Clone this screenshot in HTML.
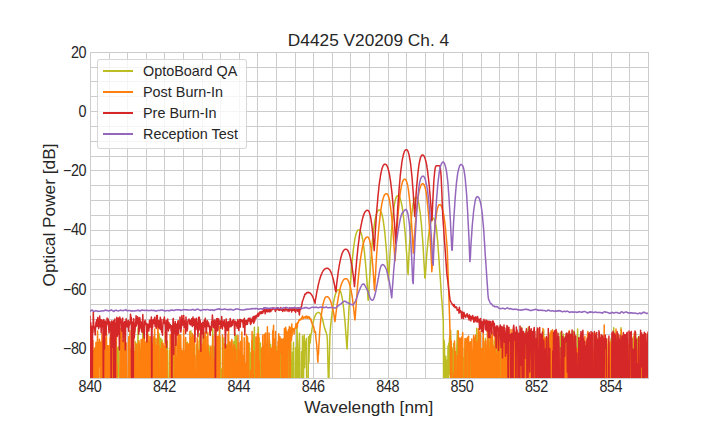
<!DOCTYPE html>
<html><head><meta charset="utf-8"><title>D4425 V20209 Ch. 4</title>
<style>
html,body{margin:0;padding:0;background:#fff;}
body{width:720px;height:432px;position:relative;overflow:hidden;font-family:"Liberation Sans",sans-serif;color:#262626;}
svg{position:absolute;left:0;top:0;}
.title{position:absolute;left:0;width:737px;top:30.1px;text-align:center;font-size:17.28px;line-height:20px;white-space:nowrap;}
.xl{position:absolute;left:0;width:737.5px;top:396.7px;text-align:center;font-size:17.28px;line-height:20px;white-space:nowrap;}
.yl{position:absolute;left:48.6px;top:214.9px;width:0;height:0;font-size:17.28px;line-height:20px;white-space:nowrap;}
.yl span{position:absolute;left:-150px;width:300px;top:-10px;text-align:center;transform:rotate(-90deg);transform-origin:50% 50%;display:block;}
.xt{position:absolute;top:378.0px;width:60px;text-align:center;font-size:14.4px;line-height:18px;letter-spacing:-0.4px;transform:scaleY(1.09);transform-origin:50% 14px;}
.yt{position:absolute;left:0;width:86.2px;text-align:right;font-size:14.4px;line-height:18px;letter-spacing:-0.4px;transform:scaleY(1.09);transform-origin:50% 9px;}
.legend{position:absolute;left:97px;top:58.7px;width:150px;height:90px;box-sizing:border-box;border:1px solid rgba(204,204,204,0.8);border-radius:3px;background:rgba(255,255,255,0.8);}
.li{position:absolute;left:97.5px;height:20px;line-height:20px;font-size:14.4px;white-space:nowrap;}
.ln{position:absolute;left:5px;top:9.25px;width:30px;height:1.5px;}
.lt{position:absolute;left:45.5px;top:0;}
</style></head><body>
<svg width="720" height="432" viewBox="0 0 720 432">
<defs><clipPath id="c"><rect x="90.0" y="51.84" width="558.0" height="326.15999999999997"/></clipPath></defs>
<g stroke="#cccccc" stroke-width="1" fill="none"><line x1="90.50" y1="52" x2="90.50" y2="379"/><line x1="109.50" y1="52" x2="109.50" y2="379"/><line x1="127.50" y1="52" x2="127.50" y2="379"/><line x1="146.50" y1="52" x2="146.50" y2="379"/><line x1="164.50" y1="52" x2="164.50" y2="379"/><line x1="183.50" y1="52" x2="183.50" y2="379"/><line x1="202.50" y1="52" x2="202.50" y2="379"/><line x1="220.50" y1="52" x2="220.50" y2="379"/><line x1="239.50" y1="52" x2="239.50" y2="379"/><line x1="257.50" y1="52" x2="257.50" y2="379"/><line x1="276.50" y1="52" x2="276.50" y2="379"/><line x1="295.50" y1="52" x2="295.50" y2="379"/><line x1="313.50" y1="52" x2="313.50" y2="379"/><line x1="332.50" y1="52" x2="332.50" y2="379"/><line x1="350.50" y1="52" x2="350.50" y2="379"/><line x1="369.50" y1="52" x2="369.50" y2="379"/><line x1="388.50" y1="52" x2="388.50" y2="379"/><line x1="406.50" y1="52" x2="406.50" y2="379"/><line x1="425.50" y1="52" x2="425.50" y2="379"/><line x1="443.50" y1="52" x2="443.50" y2="379"/><line x1="462.50" y1="52" x2="462.50" y2="379"/><line x1="481.50" y1="52" x2="481.50" y2="379"/><line x1="499.50" y1="52" x2="499.50" y2="379"/><line x1="518.50" y1="52" x2="518.50" y2="379"/><line x1="536.50" y1="52" x2="536.50" y2="379"/><line x1="555.50" y1="52" x2="555.50" y2="379"/><line x1="574.50" y1="52" x2="574.50" y2="379"/><line x1="592.50" y1="52" x2="592.50" y2="379"/><line x1="611.50" y1="52" x2="611.50" y2="379"/><line x1="629.50" y1="52" x2="629.50" y2="379"/><line x1="648.50" y1="52" x2="648.50" y2="379"/><line x1="90" y1="52.50" x2="649" y2="52.50"/><line x1="90" y1="67.50" x2="649" y2="67.50"/><line x1="90" y1="81.50" x2="649" y2="81.50"/><line x1="90" y1="96.50" x2="649" y2="96.50"/><line x1="90" y1="111.50" x2="649" y2="111.50"/><line x1="90" y1="126.50" x2="649" y2="126.50"/><line x1="90" y1="141.50" x2="649" y2="141.50"/><line x1="90" y1="156.50" x2="649" y2="156.50"/><line x1="90" y1="170.50" x2="649" y2="170.50"/><line x1="90" y1="185.50" x2="649" y2="185.50"/><line x1="90" y1="200.50" x2="649" y2="200.50"/><line x1="90" y1="215.50" x2="649" y2="215.50"/><line x1="90" y1="230.50" x2="649" y2="230.50"/><line x1="90" y1="245.50" x2="649" y2="245.50"/><line x1="90" y1="259.50" x2="649" y2="259.50"/><line x1="90" y1="274.50" x2="649" y2="274.50"/><line x1="90" y1="289.50" x2="649" y2="289.50"/><line x1="90" y1="304.50" x2="649" y2="304.50"/><line x1="90" y1="319.50" x2="649" y2="319.50"/><line x1="90" y1="334.50" x2="649" y2="334.50"/><line x1="90" y1="348.50" x2="649" y2="348.50"/><line x1="90" y1="363.50" x2="649" y2="363.50"/><line x1="90" y1="378.50" x2="649" y2="378.50"/></g>
<g clip-path="url(#c)" fill="none" stroke-width="1.5" stroke-linejoin="round" stroke-linecap="butt">
<path stroke="#bcbd22" d="M90.0,363.8 90.4,408.0 90.9,408.0 91.3,362.3 91.7,408.0 92.1,353.3 92.6,408.0 93.0,408.0 93.4,408.0 93.9,408.0 94.3,408.0 94.7,408.0 95.2,349.1 95.6,369.9 96.0,408.0 96.4,408.0 96.9,408.0 97.3,356.5 97.7,408.0 98.2,347.6 98.6,408.0 99.0,408.0 99.4,408.0 99.9,408.0 100.3,408.0 100.7,368.0 101.2,408.0 101.6,350.7 102.0,408.0 102.4,408.0 102.9,360.1 103.3,408.0 103.7,408.0 104.2,408.0 104.6,347.8 105.0,345.8 105.5,408.0 105.9,408.0 106.3,348.7 106.7,408.0 107.2,358.1 107.6,408.0 108.0,408.0 108.5,408.0 108.9,352.4 109.3,408.0 109.7,408.0 110.2,408.0 110.6,408.0 111.0,408.0 111.5,408.0 111.9,408.0 112.3,333.2 112.7,408.0 113.2,408.0 113.6,354.1 114.0,363.3 114.5,408.0 114.9,365.7 115.3,357.8 115.8,370.0 116.2,408.0 116.6,408.0 117.0,348.1 117.5,376.5 117.9,371.7 118.3,346.8 118.8,355.4 119.2,408.0 119.6,408.0 120.0,408.0 120.5,408.0 120.9,408.0 121.3,348.4 121.8,408.0 122.2,348.1 122.6,361.4 123.1,408.0 123.5,408.0 123.9,408.0 124.3,356.6 124.8,408.0 125.2,408.0 125.6,408.0 126.1,348.9 126.5,380.9 126.9,408.0 127.3,408.0 127.8,390.8 128.2,408.0 128.6,408.0 129.1,408.0 129.5,408.0 129.9,408.0 130.3,408.0 130.8,408.0 131.2,408.0 131.6,350.2 132.1,408.0 132.5,408.0 132.9,345.8 133.4,370.1 133.8,408.0 134.2,408.0 134.6,408.0 135.1,408.0 135.5,341.7 135.9,408.0 136.4,408.0 136.8,408.0 137.2,399.0 137.6,352.0 138.1,327.7 138.5,408.0 138.9,408.0 139.4,375.0 139.8,347.9 140.2,350.5 140.6,408.0 141.1,351.0 141.5,342.2 141.9,391.8 142.4,408.0 142.8,327.7 143.2,334.3 143.7,359.3 144.1,354.8 144.5,408.0 144.9,408.0 145.4,349.2 145.8,349.1 146.2,408.0 146.7,360.0 147.1,408.0 147.5,327.7 147.9,348.9 148.4,408.0 148.8,408.0 149.2,349.5 149.7,348.2 150.1,381.4 150.5,359.5 151.0,408.0 151.4,338.6 151.8,367.5 152.2,353.4 152.7,408.0 153.1,351.0 153.5,357.2 154.0,356.3 154.4,408.0 154.8,408.0 155.2,338.7 155.7,339.4 156.1,348.4 156.5,392.2 157.0,373.0 157.4,408.0 157.8,353.1 158.2,349.4 158.7,359.3 159.1,333.8 159.5,342.6 160.0,408.0 160.4,363.8 160.8,338.2 161.3,383.1 161.7,408.0 162.1,339.9 162.5,354.3 163.0,408.0 163.4,408.0 163.8,367.2 164.3,349.6 164.7,349.7 165.1,388.3 165.5,408.0 166.0,408.0 166.4,408.0 166.8,348.3 167.3,340.9 167.7,408.0 168.1,408.0 168.5,408.0 169.0,408.0 169.4,350.3 169.8,360.5 170.3,349.8 170.7,368.9 171.1,339.6 171.6,365.6 172.0,348.0 172.4,408.0 172.8,364.3 173.3,345.3 173.7,343.1 174.1,408.0 174.6,408.0 175.0,408.0 175.4,345.0 175.8,408.0 176.3,359.9 176.7,408.0 177.1,408.0 177.6,393.6 178.0,346.5 178.4,352.5 178.9,347.8 179.3,408.0 179.7,340.8 180.1,408.0 180.6,408.0 181.0,408.0 181.4,373.3 181.9,394.4 182.3,408.0 182.7,408.0 183.1,408.0 183.6,408.0 184.0,408.0 184.4,408.0 184.9,408.0 185.3,339.0 185.7,408.0 186.1,350.6 186.6,343.1 187.0,408.0 187.4,342.3 187.9,408.0 188.3,408.0 188.7,360.3 189.2,349.5 189.6,408.0 190.0,408.0 190.4,408.0 190.9,330.7 191.3,341.7 191.7,365.2 192.2,408.0 192.6,337.0 193.0,408.0 193.4,408.0 193.9,352.5 194.3,408.0 194.7,408.0 195.2,408.0 195.6,408.0 196.0,408.0 196.4,344.6 196.9,408.0 197.3,345.3 197.7,408.0 198.2,372.5 198.6,408.0 199.0,408.0 199.5,333.8 199.9,351.4 200.3,408.0 200.7,408.0 201.2,408.0 201.6,408.0 202.0,408.0 202.5,408.0 202.9,408.0 203.3,334.9 203.7,408.0 204.2,408.0 204.6,408.0 205.0,369.6 205.5,331.4 205.9,408.0 206.3,408.0 206.8,408.0 207.2,349.2 207.6,344.4 208.0,349.8 208.5,361.2 208.9,345.4 209.3,359.2 209.8,370.3 210.2,408.0 210.6,347.7 211.0,396.6 211.5,355.0 211.9,408.0 212.3,349.9 212.8,328.9 213.2,356.6 213.6,408.0 214.0,346.6 214.5,408.0 214.9,390.2 215.3,363.4 215.8,408.0 216.2,408.0 216.6,344.1 217.1,356.4 217.5,408.0 217.9,368.8 218.3,408.0 218.8,408.0 219.2,408.0 219.6,408.0 220.1,336.9 220.5,408.0 220.9,408.0 221.3,369.0 221.8,408.0 222.2,408.0 222.6,408.0 223.1,408.0 223.5,408.0 223.9,337.8 224.3,408.0 224.8,351.3 225.2,350.9 225.6,408.0 226.1,408.0 226.5,397.5 226.9,344.6 227.4,349.8 227.8,408.0 228.2,408.0 228.6,344.2 229.1,352.0 229.5,356.3 229.9,348.9 230.4,345.3 230.8,408.0 231.2,351.2 231.6,408.0 232.1,408.0 232.5,370.6 232.9,356.2 233.4,408.0 233.8,341.4 234.2,408.0 234.7,408.0 235.1,333.5 235.5,355.1 235.9,383.2 236.4,343.8 236.8,335.8 237.2,356.0 237.7,408.0 238.1,408.0 238.5,364.4 238.9,408.0 239.4,408.0 239.8,372.7 240.2,408.0 240.7,345.3 241.1,408.0 241.5,340.2 241.9,408.0 242.4,408.0 242.8,373.0 243.2,408.0 243.7,408.0 244.1,408.0 244.5,408.0 245.0,408.0 245.4,408.0 245.8,408.0 246.2,408.0 246.7,408.0 247.1,408.0 247.5,337.9 248.0,367.0 248.4,408.0 248.8,408.0 249.2,343.6 249.7,353.1 250.1,408.0 250.5,353.1 251.0,408.0 251.4,379.8 251.8,340.9 252.2,355.8 252.7,352.7 253.1,408.0 253.5,334.8 254.0,347.5 254.4,327.3 254.8,408.0 255.3,408.0 255.7,354.0 256.1,408.0 256.5,408.0 257.0,408.0 257.4,339.7 257.8,340.4 258.3,327.2 258.7,408.0 259.1,337.8 259.5,408.0 260.0,408.0 260.4,343.1 260.8,408.0 261.3,408.0 261.7,408.0 262.1,408.0 262.6,408.0 263.0,374.7 263.4,359.0 263.8,358.4 264.3,362.3 264.7,408.0 265.1,366.9 265.6,408.0 266.0,408.0 266.4,408.0 266.8,408.0 267.3,408.0 267.7,408.0 268.1,408.0 268.6,358.9 269.0,369.4 269.4,339.6 269.8,343.8 270.3,408.0 270.7,344.7 271.1,386.2 271.6,408.0 272.0,348.5 272.4,408.0 272.9,408.0 273.3,352.6 273.7,362.0 274.1,352.2 274.6,354.8 275.0,348.8 275.4,354.1 275.9,408.0 276.3,408.0 276.7,346.6 277.1,408.0 277.6,408.0 278.0,358.3 278.4,408.0 278.9,353.2 279.3,342.9 279.7,408.0 280.1,408.0 280.6,343.5 281.0,361.4 281.4,408.0 281.9,343.4 282.3,408.0 282.7,339.8 283.2,352.3 283.6,379.6 284.0,346.3 284.4,354.1 284.9,408.0 285.3,408.0 285.7,352.8 286.2,408.0 286.6,342.1 287.0,408.0 287.4,347.2 287.9,337.5 288.3,408.0 288.7,408.0 289.2,333.5 289.6,382.4 290.0,408.0 290.5,408.0 290.9,337.7 291.3,408.0 291.7,364.4 292.2,408.0 292.6,352.2 293.0,360.6 293.5,342.2 293.9,408.0 294.3,408.0 294.7,408.0 295.2,408.0 295.6,347.7 296.0,408.0 296.5,408.0 296.9,327.1 297.3,339.5 297.7,362.0 298.2,408.0 298.6,350.0 299.0,348.1 299.5,333.2 299.9,408.0 300.3,383.7 300.8,408.0 301.2,408.0 301.6,351.8 302.0,408.0 302.5,336.1 302.9,408.0 303.3,408.0 303.8,350.7 304.2,334.8 304.6,367.8 305.0,341.8 305.5,346.4 305.9,342.9 306.3,338.5 306.8,408.0 307.2,408.0 307.6,408.0 308.0,408.0 308.5,336.7 308.9,362.6 309.3,347.2 309.8,334.4 310.2,342.9 310.6,338.3 311.1,333.7 311.5,333.0 311.9,329.4 312.3,327.3 312.8,323.3 313.2,322.5 313.6,320.4 314.1,318.6 314.5,317.2 314.9,316.5 315.3,315.3 315.8,314.4 316.2,313.6 316.6,313.3 317.1,312.9 317.5,312.7 317.9,312.5 318.4,312.5 318.8,312.7 319.2,312.7 319.6,313.0 320.1,313.4 320.5,313.9 320.9,314.8 321.4,315.7 321.8,316.9 322.2,318.2 322.6,319.7 323.1,321.3 323.5,323.5 323.9,325.4 324.4,327.1 324.8,328.4 325.2,330.1 325.6,331.2 326.1,332.2 326.5,333.7 326.9,334.8 327.4,340.2 327.8,357.4 328.2,373.7 328.7,398.2 329.1,368.0 329.5,352.9 329.9,335.6 330.4,328.3 330.8,324.4 331.2,320.2 331.7,316.4 332.1,312.8 332.5,309.4 332.9,306.4 333.4,303.7 333.8,301.2 334.2,299.1 334.7,297.1 335.1,295.4 335.5,294.0 335.9,292.8 336.4,291.8 336.8,291.0 337.2,290.4 337.7,290.0 338.1,289.8 338.5,289.7 339.0,289.7 339.4,289.9 339.8,290.3 340.2,291.0 340.7,291.9 341.1,293.3 341.5,294.9 342.0,296.8 342.4,299.2 342.8,301.9 343.2,305.0 343.7,308.5 344.1,312.6 344.5,317.0 345.0,321.9 345.4,327.2 345.8,332.7 346.3,339.0 346.7,345.9 347.1,349.0 347.5,338.7 348.0,328.7 348.4,320.3 348.8,311.8 349.3,303.9 349.7,296.4 350.1,289.4 350.5,282.8 351.0,276.6 351.4,270.9 351.8,265.6 352.3,260.6 352.7,256.2 353.1,252.1 353.5,248.3 354.0,245.0 354.4,242.1 354.8,239.5 355.3,237.2 355.7,235.3 356.1,233.7 356.6,232.5 357.0,231.5 357.4,230.8 357.8,230.3 358.3,230.1 358.7,230.0 359.1,230.1 359.6,230.3 360.0,230.7 360.4,231.4 360.8,232.3 361.3,233.5 361.7,235.0 362.1,236.9 362.6,239.0 363.0,241.5 363.4,244.3 363.8,247.4 364.3,250.9 364.7,254.8 365.1,259.1 365.6,263.8 366.0,268.8 366.4,274.3 366.9,280.1 367.3,286.4 367.7,293.1 368.1,300.3 368.6,297.8 369.0,289.8 369.4,282.3 369.9,275.2 370.3,268.5 370.7,262.2 371.1,256.4 371.6,250.9 372.0,245.8 372.4,241.1 372.9,236.7 373.3,232.7 373.7,229.1 374.2,225.8 374.6,222.9 375.0,220.3 375.4,218.0 375.9,216.1 376.3,214.4 376.7,213.1 377.2,212.0 377.6,211.2 378.0,210.6 378.4,210.2 378.9,210.0 379.3,210.0 379.7,210.1 380.2,210.4 380.6,210.9 381.0,211.7 381.4,212.8 381.9,214.2 382.3,215.9 382.7,217.9 383.2,220.3 383.6,223.1 384.0,226.2 384.5,229.8 384.9,233.7 385.3,238.0 385.7,242.7 386.2,247.9 386.6,253.4 387.0,259.4 387.5,265.9 387.9,272.8 388.3,280.2 388.7,278.3 389.2,269.6 389.6,261.4 390.0,253.8 390.5,246.7 390.9,240.1 391.3,234.0 391.7,228.4 392.2,223.4 392.6,218.8 393.0,214.6 393.5,210.9 393.9,207.7 394.3,204.9 394.8,202.5 395.2,200.5 395.6,198.9 396.0,197.7 396.5,196.8 396.9,196.2 397.3,195.9 397.8,195.8 398.2,195.8 398.6,196.0 399.0,196.4 399.5,197.1 399.9,197.9 400.3,199.1 400.8,200.5 401.2,202.2 401.6,204.2 402.1,206.5 402.5,209.2 402.9,212.2 403.3,215.5 403.8,219.2 404.2,223.2 404.6,227.6 405.1,232.4 405.5,237.6 405.9,243.2 406.3,249.1 406.8,255.5 407.2,262.3 407.6,269.5 408.1,274.6 408.5,265.1 408.9,256.3 409.3,248.2 409.8,240.8 410.2,234.0 410.6,227.9 411.1,222.4 411.5,217.5 411.9,213.2 412.4,209.5 412.8,206.3 413.2,203.7 413.6,201.6 414.1,200.0 414.5,198.8 414.9,198.0 415.4,197.6 415.8,197.5 416.2,197.6 416.6,197.8 417.1,198.4 417.5,199.2 417.9,200.4 418.4,202.0 418.8,203.9 419.2,206.2 419.6,208.9 420.1,212.0 420.5,215.6 420.9,219.6 421.4,224.1 421.8,229.1 422.2,234.5 422.7,240.4 423.1,246.9 423.5,253.8 423.9,261.3 424.4,269.3 424.8,277.8 425.2,278.0 425.7,271.0 426.1,264.4 426.5,258.3 426.9,252.8 427.4,247.6 427.8,243.0 428.2,238.8 428.7,235.0 429.1,231.7 429.5,228.7 430.0,226.2 430.4,224.1 430.8,222.3 431.2,220.9 431.7,219.8 432.1,219.0 432.5,218.6 433.0,218.3 433.4,218.3 433.8,218.5 434.2,219.0 434.7,219.9 435.1,221.3 435.5,223.3 436.0,225.7 436.4,228.8 436.8,232.4 437.2,236.7 437.7,241.6 438.1,247.2 438.5,253.4 439.0,259.6 439.4,265.8 439.8,271.9 440.3,278.1 440.7,284.3 441.1,290.5 441.5,296.6 442.0,302.8 442.4,309.0 442.8,315.1 443.3,322.0 443.7,408.0 444.1,340.1 444.5,345.0 445.0,408.0 445.4,362.4 445.8,356.2 446.3,408.0 446.7,360.2 447.1,408.0 447.5,391.3 448.0,346.1 448.4,408.0 448.8,343.2 449.3,342.7 449.7,336.0 450.1,374.5 450.6,330.3 451.0,340.7 451.4,354.8 451.8,408.0 452.3,349.2 452.7,358.5 453.1,408.0 453.6,343.5 454.0,349.9 454.4,408.0 454.8,351.7 455.3,352.2 455.7,356.3 456.1,393.9 456.6,354.9 457.0,341.8 457.4,330.8 457.9,408.0 458.3,343.8 458.7,346.3 459.1,370.2 459.6,408.0 460.0,408.0 460.4,408.0 460.9,341.6 461.3,347.3 461.7,408.0 462.1,408.0 462.6,408.0 463.0,408.0 463.4,357.7 463.9,408.0 464.3,348.4 464.7,354.2 465.1,341.6 465.6,367.7 466.0,359.3 466.4,408.0 466.9,408.0 467.3,408.0 467.7,356.0 468.2,351.7 468.6,408.0 469.0,408.0 469.4,408.0 469.9,348.2 470.3,341.7 470.7,408.0 471.2,350.3 471.6,408.0 472.0,408.0 472.4,408.0 472.9,408.0 473.3,356.4 473.7,343.7 474.2,408.0 474.6,408.0 475.0,408.0 475.4,408.0 475.9,408.0 476.3,408.0 476.7,328.3 477.2,341.9 477.6,408.0 478.0,352.8 478.5,355.9 478.9,348.8 479.3,408.0 479.7,408.0 480.2,408.0 480.6,408.0 481.0,350.5 481.5,348.3 481.9,408.0 482.3,408.0 482.7,351.9 483.2,408.0 483.6,365.6 484.0,359.9 484.5,408.0 484.9,351.0 485.3,338.4 485.8,408.0 486.2,408.0 486.6,408.0 487.0,408.0 487.5,344.6 487.9,345.3 488.3,408.0 488.8,336.9 489.2,408.0 489.6,401.6 490.0,342.1 490.5,367.2 490.9,342.3 491.3,379.0 491.8,408.0 492.2,408.0 492.6,408.0 493.0,355.5 493.5,356.9 493.9,408.0 494.3,341.1 494.8,384.2 495.2,336.7 495.6,408.0 496.1,408.0 496.5,362.3 496.9,345.2 497.3,349.4 497.8,365.0 498.2,408.0 498.6,352.6 499.1,408.0 499.5,408.0 499.9,343.1 500.3,344.2 500.8,408.0 501.2,367.9 501.6,358.2 502.1,327.3 502.5,357.0 502.9,354.3 503.3,408.0 503.8,408.0 504.2,408.0 504.6,344.0 505.1,345.4 505.5,408.0 505.9,340.8 506.4,341.2 506.8,408.0 507.2,352.7 507.6,340.9 508.1,408.0 508.5,408.0 508.9,408.0 509.4,408.0 509.8,350.5 510.2,408.0 510.6,335.6 511.1,408.0 511.5,339.3 511.9,408.0 512.4,408.0 512.8,408.0 513.2,408.0 513.7,351.2 514.1,408.0 514.5,337.7 514.9,369.4 515.4,375.5 515.8,354.4 516.2,408.0 516.7,342.5 517.1,408.0 517.5,341.5 517.9,408.0 518.4,343.9 518.8,408.0 519.2,355.1 519.7,368.2 520.1,408.0 520.5,408.0 520.9,408.0 521.4,327.5 521.8,408.0 522.2,408.0 522.7,354.2 523.1,368.1 523.5,344.9 524.0,408.0 524.4,408.0 524.8,408.0 525.2,408.0 525.7,331.7 526.1,408.0 526.5,408.0 527.0,408.0 527.4,369.3 527.8,342.0 528.2,327.4 528.7,356.0 529.1,338.3 529.5,340.1 530.0,335.2 530.4,408.0 530.8,408.0 531.2,408.0 531.7,358.9 532.1,408.0 532.5,408.0 533.0,355.1 533.4,408.0 533.8,408.0 534.3,408.0 534.7,349.7 535.1,401.1 535.5,408.0 536.0,408.0 536.4,346.0 536.8,408.0 537.3,340.3 537.7,367.2 538.1,363.8 538.5,408.0 539.0,408.0 539.4,349.9 539.8,408.0 540.3,408.0 540.7,408.0 541.1,339.7 541.6,408.0 542.0,359.7 542.4,408.0 542.8,408.0 543.3,408.0 543.7,329.7 544.1,408.0 544.6,349.4 545.0,408.0 545.4,350.0 545.8,347.3 546.3,408.0 546.7,408.0 547.1,406.5 547.6,352.5 548.0,364.9 548.4,408.0 548.8,354.0 549.3,408.0 549.7,334.4 550.1,408.0 550.6,364.0 551.0,408.0 551.4,408.0 551.9,363.7 552.3,408.0 552.7,408.0 553.1,349.6 553.6,408.0 554.0,350.7 554.4,346.1 554.9,408.0 555.3,401.3 555.7,408.0 556.1,348.3 556.6,408.0 557.0,368.2 557.4,408.0 557.9,350.7 558.3,397.3 558.7,408.0 559.1,354.5 559.6,408.0 560.0,340.2 560.4,332.8 560.9,332.1 561.3,341.8 561.7,370.4 562.2,408.0 562.6,408.0 563.0,408.0 563.4,333.9 563.9,340.1 564.3,348.9 564.7,408.0 565.2,350.2 565.6,408.0 566.0,336.8 566.4,347.2 566.9,352.7 567.3,355.2 567.7,357.1 568.2,336.7 568.6,344.7 569.0,341.6 569.5,331.9 569.9,408.0 570.3,365.9 570.7,408.0 571.2,408.0 571.6,338.8 572.0,347.1 572.5,408.0 572.9,372.9 573.3,408.0 573.7,331.1 574.2,353.5 574.6,353.4 575.0,408.0 575.5,378.6 575.9,408.0 576.3,353.6 576.7,408.0 577.2,348.7 577.6,329.0 578.0,357.7 578.5,408.0 578.9,408.0 579.3,360.6 579.8,408.0 580.2,335.6 580.6,408.0 581.0,350.1 581.5,357.7 581.9,408.0 582.3,408.0 582.8,408.0 583.2,351.1 583.6,408.0 584.0,408.0 584.5,408.0 584.9,353.0 585.3,367.5 585.8,366.6 586.2,408.0 586.6,408.0 587.0,368.5 587.5,408.0 587.9,408.0 588.3,408.0 588.8,408.0 589.2,408.0 589.6,408.0 590.1,408.0 590.5,383.7 590.9,408.0 591.3,345.1 591.8,351.4 592.2,408.0 592.6,408.0 593.1,356.1 593.5,408.0 593.9,408.0 594.3,408.0 594.8,354.9 595.2,408.0 595.6,408.0 596.1,408.0 596.5,337.9 596.9,408.0 597.4,408.0 597.8,399.0 598.2,408.0 598.6,370.7 599.1,408.0 599.5,408.0 599.9,408.0 600.4,408.0 600.8,361.1 601.2,408.0 601.6,349.4 602.1,408.0 602.5,383.1 602.9,408.0 603.4,408.0 603.8,408.0 604.2,408.0 604.6,408.0 605.1,379.3 605.5,408.0 605.9,340.5 606.4,365.9 606.8,344.1 607.2,408.0 607.7,374.8 608.1,357.3 608.5,408.0 608.9,408.0 609.4,356.2 609.8,408.0 610.2,408.0 610.7,347.5 611.1,338.2 611.5,374.3 611.9,367.1 612.4,408.0 612.8,408.0 613.2,408.0 613.7,327.8 614.1,340.2 614.5,408.0 614.9,385.1 615.4,352.7 615.8,389.6 616.2,358.9 616.7,408.0 617.1,378.0 617.5,375.9 618.0,408.0 618.4,335.6 618.8,408.0 619.2,408.0 619.7,408.0 620.1,361.6 620.5,408.0 621.0,327.8 621.4,408.0 621.8,344.7 622.2,408.0 622.7,408.0 623.1,353.6 623.5,353.1 624.0,354.3 624.4,393.5 624.8,355.1 625.3,408.0 625.7,341.3 626.1,408.0 626.5,357.5 627.0,371.2 627.4,353.5 627.8,408.0 628.3,408.0 628.7,344.7 629.1,408.0 629.5,350.1 630.0,408.0 630.4,408.0 630.8,351.9 631.3,408.0 631.7,353.1 632.1,408.0 632.5,351.5 633.0,408.0 633.4,336.8 633.8,408.0 634.3,408.0 634.7,347.9 635.1,408.0 635.6,332.7 636.0,346.6 636.4,341.6 636.8,356.5 637.3,338.2 637.7,343.7 638.1,404.5 638.6,408.0 639.0,408.0 639.4,408.0 639.8,335.9 640.3,408.0 640.7,408.0 641.1,408.0 641.6,347.1 642.0,408.0 642.4,408.0 642.8,345.9 643.3,408.0 643.7,335.9 644.1,408.0 644.6,375.3 645.0,339.1 645.4,408.0 645.9,408.0 646.3,352.6 646.7,408.0 647.1,408.0 647.6,360.4 648.0,345.8"/><path stroke="#ff7f0e" d="M90.0,361.7 90.3,408.0 90.6,408.0 90.9,408.0 91.2,332.8 91.5,338.6 91.8,408.0 92.1,343.6 92.3,356.6 92.6,408.0 92.9,340.6 93.2,408.0 93.5,408.0 93.8,408.0 94.1,350.4 94.4,408.0 94.7,348.1 95.0,408.0 95.3,366.7 95.6,408.0 95.9,342.5 96.2,361.7 96.5,354.5 96.8,351.7 97.0,408.0 97.3,343.4 97.6,331.0 97.9,408.0 98.2,408.0 98.5,408.0 98.8,342.5 99.1,366.5 99.4,339.3 99.7,344.5 100.0,360.2 100.3,356.4 100.6,408.0 100.9,342.1 101.2,408.0 101.5,408.0 101.7,358.4 102.0,332.7 102.3,408.0 102.6,408.0 102.9,408.0 103.2,340.7 103.5,408.0 103.8,336.6 104.1,408.0 104.4,338.7 104.7,339.8 105.0,408.0 105.3,364.2 105.6,337.7 105.9,371.3 106.2,340.2 106.4,329.1 106.7,356.8 107.0,408.0 107.3,408.0 107.6,345.8 107.9,408.0 108.2,408.0 108.5,408.0 108.8,345.8 109.1,408.0 109.4,408.0 109.7,408.0 110.0,337.9 110.3,373.5 110.6,334.9 110.9,408.0 111.1,408.0 111.4,349.7 111.7,408.0 112.0,408.0 112.3,408.0 112.6,332.9 112.9,353.5 113.2,351.5 113.5,408.0 113.8,408.0 114.1,341.7 114.4,408.0 114.7,408.0 115.0,408.0 115.3,408.0 115.6,361.5 115.8,338.6 116.1,408.0 116.4,335.6 116.7,408.0 117.0,364.2 117.3,408.0 117.6,408.0 117.9,378.9 118.2,408.0 118.5,408.0 118.8,408.0 119.1,408.0 119.4,408.0 119.7,408.0 120.0,351.9 120.2,341.4 120.5,345.8 120.8,328.6 121.1,354.8 121.4,408.0 121.7,332.1 122.0,408.0 122.3,340.6 122.6,408.0 122.9,353.5 123.2,408.0 123.5,341.5 123.8,408.0 124.1,408.0 124.4,333.5 124.7,343.6 124.9,379.3 125.2,408.0 125.5,408.0 125.8,408.0 126.1,344.3 126.4,343.1 126.7,408.0 127.0,408.0 127.3,408.0 127.6,408.0 127.9,408.0 128.2,408.0 128.5,344.9 128.8,336.6 129.1,408.0 129.4,347.8 129.6,408.0 129.9,330.8 130.2,408.0 130.5,349.0 130.8,408.0 131.1,408.0 131.4,360.6 131.7,408.0 132.0,353.5 132.3,408.0 132.6,345.4 132.9,408.0 133.2,333.1 133.5,408.0 133.8,338.9 134.1,408.0 134.3,351.0 134.6,408.0 134.9,408.0 135.2,386.8 135.5,408.0 135.8,357.2 136.1,343.8 136.4,345.6 136.7,408.0 137.0,408.0 137.3,408.0 137.6,408.0 137.9,408.0 138.2,343.8 138.5,408.0 138.8,408.0 139.0,340.8 139.3,345.3 139.6,359.4 139.9,408.0 140.2,355.1 140.5,353.7 140.8,408.0 141.1,339.5 141.4,348.8 141.7,408.0 142.0,367.0 142.3,408.0 142.6,338.4 142.9,342.8 143.2,408.0 143.5,408.0 143.7,369.3 144.0,408.0 144.3,334.6 144.6,343.9 144.9,408.0 145.2,347.1 145.5,408.0 145.8,355.1 146.1,341.9 146.4,408.0 146.7,408.0 147.0,347.4 147.3,331.4 147.6,360.4 147.9,408.0 148.1,335.3 148.4,408.0 148.7,348.9 149.0,408.0 149.3,341.0 149.6,408.0 149.9,336.4 150.2,355.5 150.5,408.0 150.8,408.0 151.1,408.0 151.4,336.7 151.7,366.4 152.0,374.5 152.3,408.0 152.6,343.9 152.8,352.5 153.1,356.3 153.4,408.0 153.7,337.8 154.0,336.1 154.3,408.0 154.6,329.3 154.9,344.2 155.2,408.0 155.5,408.0 155.8,345.4 156.1,347.5 156.4,408.0 156.7,408.0 157.0,338.5 157.3,408.0 157.5,408.0 157.8,326.6 158.1,330.3 158.4,340.6 158.7,408.0 159.0,345.6 159.3,408.0 159.6,368.6 159.9,408.0 160.2,408.0 160.5,408.0 160.8,348.3 161.1,370.8 161.4,363.5 161.7,342.2 162.0,408.0 162.2,408.0 162.5,408.0 162.8,408.0 163.1,343.5 163.4,408.0 163.7,345.7 164.0,408.0 164.3,408.0 164.6,408.0 164.9,408.0 165.2,332.0 165.5,342.0 165.8,408.0 166.1,408.0 166.4,408.0 166.7,408.0 166.9,350.6 167.2,408.0 167.5,408.0 167.8,408.0 168.1,408.0 168.4,408.0 168.7,408.0 169.0,408.0 169.3,408.0 169.6,408.0 169.9,374.1 170.2,334.5 170.5,342.6 170.8,408.0 171.1,344.1 171.4,408.0 171.6,335.2 171.9,347.6 172.2,408.0 172.5,343.6 172.8,342.6 173.1,408.0 173.4,408.0 173.7,408.0 174.0,408.0 174.3,408.0 174.6,408.0 174.9,348.7 175.2,355.4 175.5,327.5 175.8,408.0 176.0,338.1 176.3,372.3 176.6,356.7 176.9,408.0 177.2,408.0 177.5,408.0 177.8,343.4 178.1,334.0 178.4,346.4 178.7,348.9 179.0,408.0 179.3,334.4 179.6,336.1 179.9,408.0 180.2,408.0 180.5,408.0 180.7,335.0 181.0,351.5 181.3,408.0 181.6,351.5 181.9,350.4 182.2,408.0 182.5,408.0 182.8,408.0 183.1,408.0 183.4,349.8 183.7,329.7 184.0,408.0 184.3,365.2 184.6,351.3 184.9,408.0 185.2,360.2 185.4,408.0 185.7,337.5 186.0,408.0 186.3,369.2 186.6,344.8 186.9,408.0 187.2,408.0 187.5,408.0 187.8,343.4 188.1,408.0 188.4,358.7 188.7,408.0 189.0,364.8 189.3,344.0 189.6,381.9 189.9,331.6 190.1,408.0 190.4,408.0 190.7,408.0 191.0,338.0 191.3,408.0 191.6,339.7 191.9,349.9 192.2,333.6 192.5,336.8 192.8,408.0 193.1,356.5 193.4,338.8 193.7,408.0 194.0,335.1 194.3,337.4 194.6,340.1 194.8,408.0 195.1,355.2 195.4,408.0 195.7,376.1 196.0,408.0 196.3,371.1 196.6,408.0 196.9,356.0 197.2,337.7 197.5,408.0 197.8,340.8 198.1,408.0 198.4,408.0 198.7,408.0 199.0,400.9 199.3,350.3 199.5,408.0 199.8,408.0 200.1,366.3 200.4,336.9 200.7,408.0 201.0,348.0 201.3,408.0 201.6,408.0 201.9,408.0 202.2,344.3 202.5,408.0 202.8,408.0 203.1,346.9 203.4,332.3 203.7,352.1 203.9,355.1 204.2,408.0 204.5,338.7 204.8,347.7 205.1,332.7 205.4,354.0 205.7,408.0 206.0,408.0 206.3,408.0 206.6,408.0 206.9,336.8 207.2,342.5 207.5,408.0 207.8,332.4 208.1,357.8 208.4,408.0 208.6,352.0 208.9,408.0 209.2,408.0 209.5,408.0 209.8,381.7 210.1,355.6 210.4,408.0 210.7,347.3 211.0,346.0 211.3,408.0 211.6,367.8 211.9,408.0 212.2,408.0 212.5,408.0 212.8,335.9 213.1,408.0 213.3,358.2 213.6,361.4 213.9,408.0 214.2,408.0 214.5,408.0 214.8,408.0 215.1,392.3 215.4,354.1 215.7,408.0 216.0,325.4 216.3,408.0 216.6,366.1 216.9,408.0 217.2,408.0 217.5,336.4 217.8,408.0 218.0,336.0 218.3,338.0 218.6,408.0 218.9,339.3 219.2,408.0 219.5,326.8 219.8,408.0 220.1,408.0 220.4,408.0 220.7,408.0 221.0,408.0 221.3,408.0 221.6,408.0 221.9,408.0 222.2,408.0 222.5,335.0 222.7,408.0 223.0,408.0 223.3,408.0 223.6,408.0 223.9,408.0 224.2,408.0 224.5,344.0 224.8,408.0 225.1,408.0 225.4,346.0 225.7,356.0 226.0,408.0 226.3,352.0 226.6,408.0 226.9,345.7 227.2,349.5 227.4,408.0 227.7,408.0 228.0,334.3 228.3,369.9 228.6,325.4 228.9,408.0 229.2,341.7 229.5,408.0 229.8,357.3 230.1,342.0 230.4,408.0 230.7,408.0 231.0,363.1 231.3,367.5 231.6,346.3 231.8,339.4 232.1,342.0 232.4,356.8 232.7,408.0 233.0,408.0 233.3,408.0 233.6,408.0 233.9,344.6 234.2,408.0 234.5,408.0 234.8,345.7 235.1,408.0 235.4,408.0 235.7,408.0 236.0,349.3 236.3,408.0 236.5,408.0 236.8,361.9 237.1,408.0 237.4,408.0 237.7,408.0 238.0,335.5 238.3,408.0 238.6,344.0 238.9,342.7 239.2,408.0 239.5,350.1 239.8,408.0 240.1,408.0 240.4,408.0 240.7,341.4 241.0,408.0 241.2,408.0 241.5,408.0 241.8,332.0 242.1,343.5 242.4,408.0 242.7,408.0 243.0,408.0 243.3,355.4 243.6,355.5 243.9,408.0 244.2,337.7 244.5,342.9 244.8,408.0 245.1,408.0 245.4,408.0 245.7,362.9 245.9,408.0 246.2,408.0 246.5,334.6 246.8,354.3 247.1,336.6 247.4,336.7 247.7,408.0 248.0,353.3 248.3,343.5 248.6,342.9 248.9,408.0 249.2,408.0 249.5,380.5 249.8,408.0 250.1,408.0 250.4,408.0 250.6,370.4 250.9,408.0 251.2,408.0 251.5,408.0 251.8,354.2 252.1,331.4 252.4,359.5 252.7,408.0 253.0,364.8 253.3,408.0 253.6,351.1 253.9,408.0 254.2,408.0 254.5,408.0 254.8,408.0 255.1,408.0 255.3,408.0 255.6,408.0 255.9,337.1 256.2,408.0 256.5,408.0 256.8,346.2 257.1,347.1 257.4,333.4 257.7,346.1 258.0,408.0 258.3,335.6 258.6,333.9 258.9,408.0 259.2,361.6 259.5,408.0 259.7,408.0 260.0,408.0 260.3,408.0 260.6,408.0 260.9,408.0 261.2,408.0 261.5,347.9 261.8,356.8 262.1,408.0 262.4,408.0 262.7,336.5 263.0,334.7 263.3,408.0 263.6,346.1 263.9,408.0 264.2,408.0 264.4,408.0 264.7,334.2 265.0,408.0 265.3,408.0 265.6,333.0 265.9,408.0 266.2,344.1 266.5,347.3 266.8,408.0 267.1,357.2 267.4,326.8 267.7,408.0 268.0,408.0 268.3,408.0 268.6,408.0 268.9,408.0 269.1,332.9 269.4,354.7 269.7,408.0 270.0,408.0 270.3,348.4 270.6,348.3 270.9,408.0 271.2,391.1 271.5,352.2 271.8,348.2 272.1,348.0 272.4,408.0 272.7,330.7 273.0,353.1 273.3,330.9 273.6,325.3 273.8,408.0 274.1,408.0 274.4,339.1 274.7,408.0 275.0,408.0 275.3,408.0 275.6,331.4 275.9,408.0 276.2,408.0 276.5,408.0 276.8,408.0 277.1,351.6 277.4,408.0 277.7,408.0 278.0,341.4 278.3,408.0 278.5,339.4 278.8,333.8 279.1,408.0 279.4,408.0 279.7,347.7 280.0,336.8 280.3,352.9 280.6,348.2 280.9,352.8 281.2,343.9 281.5,339.0 281.8,408.0 282.1,408.0 282.4,348.2 282.7,408.0 283.0,345.3 283.2,338.8 283.5,348.0 283.8,408.0 284.1,408.0 284.4,328.4 284.7,334.2 285.0,408.0 285.3,408.0 285.6,327.3 285.9,329.1 286.2,341.0 286.5,330.9 286.8,408.0 287.1,341.5 287.4,333.2 287.6,408.0 287.9,361.8 288.2,332.0 288.5,329.5 288.8,348.8 289.1,335.0 289.4,326.4 289.7,341.9 290.0,408.0 290.3,336.6 290.6,339.4 290.9,327.6 291.2,333.4 291.5,340.5 291.8,324.1 292.1,336.0 292.3,330.4 292.6,329.4 292.9,328.7 293.2,330.4 293.5,328.7 293.8,330.2 294.1,334.1 294.4,329.6 294.7,329.0 295.0,328.4 295.3,327.1 295.6,327.8 295.9,324.3 296.2,323.6 296.5,328.3 296.8,324.5 297.0,324.8 297.3,326.9 297.6,322.5 297.9,323.2 298.2,322.5 298.5,322.3 298.8,320.3 299.1,319.8 299.4,320.3 299.7,319.6 300.0,319.9 300.3,319.4 300.6,319.9 300.9,319.0 301.2,319.3 301.5,318.2 301.7,317.7 302.0,317.8 302.3,317.1 302.6,316.0 302.9,319.0 303.2,317.4 303.5,317.6 303.8,317.5 304.1,318.0 304.4,316.9 304.7,317.1 305.0,317.2 305.3,316.9 305.6,317.1 305.9,318.2 306.2,316.1 306.4,316.9 306.7,317.3 307.0,316.5 307.3,317.1 307.6,318.2 307.9,316.4 308.2,318.1 308.5,317.4 308.8,317.4 309.1,316.9 309.4,317.3 309.7,318.3 310.0,319.3 310.3,319.5 310.6,319.0 310.9,319.0 311.1,320.5 311.4,322.1 311.7,321.4 312.0,323.4 312.3,324.3 312.6,325.0 312.9,325.1 313.2,326.2 313.5,326.4 313.8,327.1 314.1,328.5 314.4,331.9 314.7,332.1 315.0,331.3 315.3,332.4 315.5,331.9 315.8,336.7 316.1,340.1 316.4,341.8 316.7,344.6 317.0,349.9 317.3,351.5 317.6,359.2 317.9,362.3 318.2,354.0 318.5,354.3 318.8,346.1 319.1,341.7 319.4,336.9 319.7,332.1 320.0,328.2 320.2,325.5 320.5,322.4 320.8,319.7 321.1,317.0 321.4,314.7 321.7,312.5 322.0,310.4 322.3,308.5 322.6,306.8 322.9,305.2 323.2,303.7 323.5,302.5 323.8,301.3 324.1,300.3 324.4,299.5 324.7,298.7 324.9,298.1 325.2,297.6 325.5,297.3 325.8,297.0 326.1,296.8 326.4,296.7 326.7,296.7 327.0,296.7 327.3,296.7 327.6,296.9 327.9,297.0 328.2,297.2 328.5,297.4 328.8,297.7 329.1,298.1 329.4,298.5 329.6,299.0 329.9,299.6 330.2,300.2 330.5,301.0 330.8,301.8 331.1,302.6 331.4,303.6 331.7,304.6 332.0,305.7 332.3,306.9 332.6,308.2 332.9,309.5 333.2,311.0 333.5,312.4 333.8,314.0 334.1,315.9 334.3,317.5 334.6,319.5 334.9,321.6 335.2,320.0 335.5,317.3 335.8,314.8 336.1,312.4 336.4,310.2 336.7,308.0 337.0,305.8 337.3,303.7 337.6,301.8 337.9,300.0 338.2,298.2 338.5,296.5 338.8,294.9 339.0,293.4 339.3,292.0 339.6,290.6 339.9,289.4 340.2,288.2 340.5,287.1 340.8,286.1 341.1,285.1 341.4,284.2 341.7,283.4 342.0,282.7 342.3,282.0 342.6,281.4 342.9,280.9 343.2,280.4 343.4,280.0 343.7,279.7 344.0,279.4 344.3,279.1 344.6,279.0 344.9,278.8 345.2,278.8 345.5,278.7 345.8,278.7 346.1,278.7 346.4,278.8 346.7,278.9 347.0,279.1 347.3,279.3 347.6,279.6 347.9,280.1 348.1,280.5 348.4,281.1 348.7,281.8 349.0,282.5 349.3,283.4 349.6,284.3 349.9,285.3 350.2,286.5 350.5,287.7 350.8,289.1 351.1,290.5 351.4,292.1 351.7,293.8 352.0,295.5 352.3,297.5 352.6,299.5 352.8,301.6 353.1,303.9 353.4,306.2 353.7,308.7 354.0,311.4 354.3,314.2 354.6,317.1 354.9,320.0 355.2,318.0 355.5,313.5 355.8,309.3 356.1,305.2 356.4,301.3 356.7,297.4 357.0,293.8 357.3,290.2 357.5,286.7 357.8,283.4 358.1,280.2 358.4,277.2 358.7,274.3 359.0,271.5 359.3,268.8 359.6,266.2 359.9,263.8 360.2,261.5 360.5,259.3 360.8,257.2 361.1,255.2 361.4,253.3 361.7,251.6 362.0,250.0 362.2,248.4 362.5,247.0 362.8,245.7 363.1,244.5 363.4,243.4 363.7,242.4 364.0,241.5 364.3,240.7 364.6,239.9 364.9,239.3 365.2,238.7 365.5,238.3 365.8,237.9 366.1,237.6 366.4,237.3 366.7,237.2 366.9,237.1 367.2,237.0 367.5,237.0 367.8,237.0 368.1,237.2 368.4,237.5 368.7,238.0 369.0,238.6 369.3,239.4 369.6,240.4 369.9,241.6 370.2,243.0 370.5,244.6 370.8,246.5 371.1,248.6 371.3,250.9 371.6,253.5 371.9,256.3 372.2,259.3 372.5,262.6 372.8,266.2 373.1,270.1 373.4,274.2 373.7,278.6 374.0,283.3 374.3,288.2 374.6,290.5 374.9,285.0 375.2,279.7 375.5,274.6 375.8,269.6 376.0,264.8 376.3,260.2 376.6,255.8 376.9,251.5 377.2,247.5 377.5,243.5 377.8,239.8 378.1,236.2 378.4,232.8 378.7,229.5 379.0,226.4 379.3,223.5 379.6,220.7 379.9,218.1 380.2,215.6 380.5,213.2 380.7,211.1 381.0,209.0 381.3,207.1 381.6,205.4 381.9,203.7 382.2,202.3 382.5,200.9 382.8,199.7 383.1,198.6 383.4,197.6 383.7,196.8 384.0,196.0 384.3,195.4 384.6,194.9 384.9,194.5 385.2,194.2 385.4,193.9 385.7,193.8 386.0,193.7 386.3,193.7 386.6,193.7 386.9,193.9 387.2,194.1 387.5,194.4 387.8,194.9 388.1,195.5 388.4,196.3 388.7,197.2 389.0,198.3 389.3,199.6 389.6,201.0 389.9,202.6 390.1,204.4 390.4,206.3 390.7,208.5 391.0,210.9 391.3,213.4 391.6,216.2 391.9,219.1 392.2,222.3 392.5,225.7 392.8,229.3 393.1,233.1 393.4,237.1 393.7,241.3 394.0,245.8 394.3,250.5 394.6,255.5 394.8,260.7 395.1,260.8 395.4,255.1 395.7,249.7 396.0,244.5 396.3,239.5 396.6,234.8 396.9,230.3 397.2,225.9 397.5,221.8 397.8,218.0 398.1,214.3 398.4,210.8 398.7,207.5 399.0,204.5 399.2,201.6 399.5,198.9 399.8,196.4 400.1,194.1 400.4,192.0 400.7,190.1 401.0,188.3 401.3,186.7 401.6,185.3 401.9,184.1 402.2,183.0 402.5,182.0 402.8,181.2 403.1,180.6 403.4,180.1 403.7,179.7 403.9,179.4 404.2,179.3 404.5,179.2 404.8,179.2 405.1,179.3 405.4,179.4 405.7,179.7 406.0,180.2 406.3,180.8 406.6,181.5 406.9,182.4 407.2,183.5 407.5,184.7 407.8,186.2 408.1,187.8 408.4,189.6 408.6,191.7 408.9,193.9 409.2,196.4 409.5,199.0 409.8,201.9 410.1,205.0 410.4,208.4 410.7,211.9 411.0,215.7 411.3,219.8 411.6,224.0 411.9,228.6 412.2,233.3 412.5,238.3 412.8,243.6 413.1,249.1 413.3,253.2 413.6,248.4 413.9,243.7 414.2,239.2 414.5,235.0 414.8,230.9 415.1,227.0 415.4,223.3 415.7,219.8 416.0,216.5 416.3,213.3 416.6,210.3 416.9,207.5 417.2,204.9 417.5,202.5 417.8,200.2 418.0,198.1 418.3,196.1 418.6,194.4 418.9,192.7 419.2,191.2 419.5,189.9 419.8,188.7 420.1,187.7 420.4,186.8 420.7,186.0 421.0,185.4 421.3,184.8 421.6,184.4 421.9,184.1 422.2,183.9 422.5,183.8 422.7,183.8 423.0,183.8 423.3,183.9 423.6,184.2 423.9,184.5 424.2,185.0 424.5,185.7 424.8,186.5 425.1,187.5 425.4,188.7 425.7,190.1 426.0,191.7 426.3,193.5 426.6,195.5 426.9,197.7 427.1,200.1 427.4,202.8 427.7,205.7 428.0,208.8 428.3,212.1 428.6,215.7 428.9,219.5 429.2,223.6 429.5,227.9 429.8,232.5 430.1,237.3 430.4,242.4 430.7,247.7 431.0,253.4 431.3,259.2 431.6,265.4 431.8,271.8 432.1,268.2 432.4,262.7 432.7,257.4 433.0,252.5 433.3,247.8 433.6,243.3 433.9,239.2 434.2,235.3 434.5,231.7 434.8,228.3 435.1,225.2 435.4,222.3 435.7,219.7 436.0,217.3 436.3,215.1 436.5,213.2 436.8,211.5 437.1,210.0 437.4,208.7 437.7,207.6 438.0,206.7 438.3,206.0 438.6,205.4 438.9,205.1 439.2,204.8 439.5,204.7 439.8,204.7 440.1,204.7 440.4,204.9 440.7,205.1 441.0,205.4 441.2,205.9 441.5,206.4 441.8,207.1 442.1,208.0 442.4,209.0 442.7,210.1 443.0,211.4 443.3,212.8 443.6,214.4 443.9,216.2 444.2,218.2 444.5,220.3 444.8,222.6 445.1,225.0 445.4,227.7 445.7,230.5 445.9,233.5 446.2,236.8 446.5,240.2 446.8,243.8 447.1,247.6 447.4,253.4 447.7,262.2 448.0,271.0 448.3,279.8 448.6,288.7 448.9,297.5 449.2,306.3 449.5,315.1 449.8,323.9 450.1,338.5 450.4,342.7 450.6,408.0 450.9,408.0 451.2,340.9 451.5,408.0 451.8,347.4 452.1,408.0 452.4,408.0 452.7,408.0 453.0,408.0 453.3,408.0 453.6,381.1 453.9,372.7 454.2,408.0 454.5,341.1 454.8,349.7 455.0,408.0 455.3,408.0 455.6,351.7 455.9,408.0 456.2,408.0 456.5,408.0 456.8,408.0 457.1,408.0 457.4,356.1 457.7,408.0 458.0,408.0 458.3,330.9 458.6,408.0 458.9,408.0 459.2,408.0 459.5,408.0 459.7,338.1 460.0,408.0 460.3,345.0 460.6,408.0 460.9,338.4 461.2,338.9 461.5,408.0 461.8,337.1 462.1,362.8 462.4,341.9 462.7,332.5 463.0,408.0 463.3,408.0 463.6,408.0 463.9,408.0 464.2,408.0 464.4,408.0 464.7,408.0 465.0,338.5 465.3,343.2 465.6,408.0 465.9,338.9 466.2,408.0 466.5,408.0 466.8,408.0 467.1,338.1 467.4,345.0 467.7,352.0 468.0,336.8 468.3,345.2 468.6,336.1 468.9,408.0 469.1,408.0 469.4,408.0 469.7,342.9 470.0,360.7 470.3,342.0 470.6,345.1 470.9,349.7 471.2,343.1 471.5,408.0 471.8,339.1 472.1,408.0 472.4,408.0 472.7,408.0 473.0,349.9 473.3,408.0 473.6,335.6 473.8,408.0 474.1,360.4 474.4,408.0 474.7,408.0 475.0,337.2 475.3,408.0 475.6,335.1 475.9,408.0 476.2,408.0 476.5,408.0 476.8,348.6 477.1,341.4 477.4,362.8 477.7,408.0 478.0,408.0 478.3,328.8 478.5,344.4 478.8,408.0 479.1,408.0 479.4,408.0 479.7,334.0 480.0,331.0 480.3,335.1 480.6,408.0 480.9,408.0 481.2,408.0 481.5,349.0 481.8,408.0 482.1,408.0 482.4,408.0 482.7,408.0 482.9,341.6 483.2,333.1 483.5,369.6 483.8,408.0 484.1,408.0 484.4,408.0 484.7,408.0 485.0,341.8 485.3,360.4 485.6,340.5 485.9,352.1 486.2,408.0 486.5,408.0 486.8,408.0 487.1,408.0 487.4,330.8 487.6,358.8 487.9,408.0 488.2,330.8 488.5,408.0 488.8,348.1 489.1,408.0 489.4,354.4 489.7,408.0 490.0,349.7 490.3,335.2 490.6,408.0 490.9,408.0 491.2,335.9 491.5,366.3 491.8,341.8 492.1,408.0 492.3,334.1 492.6,331.9 492.9,408.0 493.2,345.3 493.5,408.0 493.8,408.0 494.1,408.0 494.4,347.8 494.7,408.0 495.0,408.0 495.3,337.2 495.6,408.0 495.9,353.1 496.2,408.0 496.5,408.0 496.8,376.4 497.0,366.7 497.3,372.8 497.6,334.0 497.9,370.5 498.2,408.0 498.5,408.0 498.8,408.0 499.1,337.1 499.4,408.0 499.7,408.0 500.0,408.0 500.3,408.0 500.6,408.0 500.9,408.0 501.2,340.9 501.5,352.1 501.7,408.0 502.0,355.4 502.3,408.0 502.6,341.0 502.9,345.5 503.2,361.6 503.5,408.0 503.8,331.0 504.1,408.0 504.4,408.0 504.7,408.0 505.0,346.5 505.3,408.0 505.6,367.6 505.9,408.0 506.2,408.0 506.4,343.3 506.7,335.9 507.0,356.0 507.3,408.0 507.6,408.0 507.9,335.5 508.2,408.0 508.5,408.0 508.8,381.1 509.1,335.6 509.4,408.0 509.7,408.0 510.0,329.5 510.3,348.3 510.6,358.1 510.8,340.6 511.1,408.0 511.4,408.0 511.7,408.0 512.0,329.4 512.3,408.0 512.6,408.0 512.9,408.0 513.2,408.0 513.5,408.0 513.8,362.7 514.1,408.0 514.4,331.0 514.7,351.3 515.0,347.2 515.3,336.2 515.5,347.3 515.8,408.0 516.1,408.0 516.4,356.5 516.7,408.0 517.0,336.7 517.3,408.0 517.6,408.0 517.9,408.0 518.2,339.5 518.5,408.0 518.8,370.4 519.1,375.3 519.4,333.0 519.7,359.5 520.0,408.0 520.2,408.0 520.5,408.0 520.8,335.8 521.1,338.6 521.4,408.0 521.7,347.9 522.0,358.2 522.3,408.0 522.6,408.0 522.9,344.7 523.2,408.0 523.5,408.0 523.8,408.0 524.1,408.0 524.4,408.0 524.7,366.6 524.9,350.0 525.2,408.0 525.5,408.0 525.8,408.0 526.1,334.8 526.4,408.0 526.7,408.0 527.0,345.8 527.3,408.0 527.6,408.0 527.9,408.0 528.2,358.9 528.5,408.0 528.8,408.0 529.1,408.0 529.4,408.0 529.6,361.1 529.9,408.0 530.2,358.6 530.5,342.5 530.8,356.6 531.1,408.0 531.4,357.5 531.7,408.0 532.0,408.0 532.3,333.3 532.6,408.0 532.9,334.2 533.2,408.0 533.5,408.0 533.8,408.0 534.1,341.0 534.3,408.0 534.6,346.7 534.9,351.9 535.2,348.8 535.5,356.1 535.8,408.0 536.1,408.0 536.4,408.0 536.7,408.0 537.0,349.7 537.3,330.1 537.6,338.8 537.9,328.6 538.2,349.5 538.5,408.0 538.7,408.0 539.0,343.5 539.3,353.9 539.6,408.0 539.9,343.4 540.2,408.0 540.5,347.9 540.8,408.0 541.1,363.7 541.4,337.1 541.7,408.0 542.0,335.2 542.3,335.6 542.6,408.0 542.9,328.4 543.2,408.0 543.4,408.0 543.7,343.1 544.0,408.0 544.3,338.8 544.6,337.5 544.9,408.0 545.2,355.5 545.5,358.4 545.8,408.0 546.1,338.2 546.4,408.0 546.7,408.0 547.0,351.8 547.3,341.2 547.6,337.9 547.9,408.0 548.1,408.0 548.4,408.0 548.7,408.0 549.0,408.0 549.3,354.1 549.6,345.0 549.9,351.3 550.2,332.7 550.5,408.0 550.8,382.9 551.1,330.7 551.4,344.1 551.7,408.0 552.0,359.3 552.3,337.0 552.6,329.8 552.8,344.4 553.1,337.2 553.4,408.0 553.7,408.0 554.0,336.9 554.3,408.0 554.6,408.0 554.9,408.0 555.2,334.2 555.5,408.0 555.8,346.5 556.1,408.0 556.4,408.0 556.7,331.6 557.0,408.0 557.3,408.0 557.5,347.8 557.8,346.8 558.1,408.0 558.4,408.0 558.7,377.2 559.0,402.9 559.3,352.7 559.6,408.0 559.9,408.0 560.2,359.0 560.5,408.0 560.8,408.0 561.1,408.0 561.4,402.6 561.7,408.0 562.0,408.0 562.2,408.0 562.5,408.0 562.8,354.0 563.1,352.4 563.4,408.0 563.7,339.7 564.0,408.0 564.3,347.2 564.6,408.0 564.9,346.4 565.2,338.6 565.5,408.0 565.8,346.0 566.1,356.4 566.4,408.0 566.6,351.9 566.9,408.0 567.2,367.9 567.5,408.0 567.8,342.6 568.1,346.4 568.4,343.4 568.7,408.0 569.0,331.6 569.3,330.6 569.6,408.0 569.9,408.0 570.2,408.0 570.5,344.4 570.8,339.1 571.1,408.0 571.3,408.0 571.6,349.9 571.9,408.0 572.2,363.1 572.5,348.2 572.8,408.0 573.1,378.1 573.4,408.0 573.7,352.5 574.0,337.0 574.3,408.0 574.6,408.0 574.9,336.7 575.2,344.2 575.5,408.0 575.8,408.0 576.0,408.0 576.3,367.3 576.6,347.9 576.9,408.0 577.2,351.1 577.5,408.0 577.8,408.0 578.1,348.4 578.4,408.0 578.7,369.0 579.0,341.7 579.3,338.3 579.6,408.0 579.9,408.0 580.2,408.0 580.5,408.0 580.7,357.1 581.0,408.0 581.3,408.0 581.6,348.8 581.9,408.0 582.2,408.0 582.5,352.3 582.8,353.1 583.1,408.0 583.4,408.0 583.7,348.0 584.0,408.0 584.3,408.0 584.6,408.0 584.9,336.3 585.2,370.5 585.4,375.7 585.7,346.9 586.0,408.0 586.3,408.0 586.6,345.4 586.9,340.1 587.2,349.2 587.5,334.3 587.8,331.5 588.1,408.0 588.4,408.0 588.7,341.7 589.0,365.8 589.3,362.7 589.6,341.0 589.9,344.1 590.1,408.0 590.4,372.0 590.7,408.0 591.0,408.0 591.3,408.0 591.6,408.0 591.9,408.0 592.2,408.0 592.5,341.5 592.8,333.9 593.1,408.0 593.4,350.2 593.7,408.0 594.0,408.0 594.3,408.0 594.5,408.0 594.8,356.8 595.1,372.2 595.4,333.2 595.7,408.0 596.0,408.0 596.3,370.6 596.6,408.0 596.9,362.0 597.2,338.3 597.5,408.0 597.8,408.0 598.1,348.7 598.4,408.0 598.7,360.9 599.0,347.9 599.2,342.5 599.5,338.6 599.8,347.6 600.1,352.3 600.4,408.0 600.7,408.0 601.0,408.0 601.3,335.1 601.6,369.5 601.9,408.0 602.2,408.0 602.5,353.2 602.8,408.0 603.1,347.0 603.4,408.0 603.7,339.1 603.9,393.3 604.2,325.0 604.5,408.0 604.8,356.3 605.1,408.0 605.4,337.8 605.7,367.3 606.0,340.6 606.3,369.8 606.6,408.0 606.9,408.0 607.2,408.0 607.5,408.0 607.8,364.8 608.1,338.7 608.4,341.5 608.6,348.2 608.9,408.0 609.2,348.2 609.5,408.0 609.8,360.1 610.1,341.8 610.4,408.0 610.7,408.0 611.0,408.0 611.3,345.8 611.6,408.0 611.9,408.0 612.2,408.0 612.5,408.0 612.8,334.3 613.1,400.6 613.3,408.0 613.6,356.7 613.9,343.8 614.2,352.1 614.5,408.0 614.8,364.3 615.1,356.1 615.4,339.5 615.7,352.6 616.0,329.0 616.3,408.0 616.6,334.1 616.9,393.3 617.2,408.0 617.5,408.0 617.8,408.0 618.0,408.0 618.3,337.2 618.6,408.0 618.9,346.1 619.2,408.0 619.5,408.0 619.8,408.0 620.1,341.4 620.4,408.0 620.7,408.0 621.0,408.0 621.3,329.5 621.6,349.9 621.9,341.8 622.2,408.0 622.4,408.0 622.7,355.3 623.0,408.0 623.3,335.8 623.6,356.4 623.9,408.0 624.2,408.0 624.5,408.0 624.8,408.0 625.1,335.3 625.4,344.4 625.7,336.7 626.0,408.0 626.3,408.0 626.6,335.6 626.9,408.0 627.1,408.0 627.4,343.9 627.7,338.5 628.0,408.0 628.3,408.0 628.6,387.1 628.9,408.0 629.2,408.0 629.5,344.6 629.8,408.0 630.1,408.0 630.4,408.0 630.7,408.0 631.0,408.0 631.3,344.1 631.6,348.7 631.8,408.0 632.1,363.3 632.4,368.5 632.7,408.0 633.0,352.7 633.3,408.0 633.6,408.0 633.9,408.0 634.2,332.9 634.5,360.9 634.8,408.0 635.1,343.8 635.4,408.0 635.7,408.0 636.0,344.8 636.3,339.2 636.5,344.7 636.8,408.0 637.1,377.2 637.4,408.0 637.7,349.8 638.0,408.0 638.3,408.0 638.6,408.0 638.9,408.0 639.2,408.0 639.5,408.0 639.8,340.6 640.1,365.8 640.4,338.2 640.7,408.0 641.0,344.1 641.2,408.0 641.5,408.0 641.8,408.0 642.1,408.0 642.4,408.0 642.7,408.0 643.0,336.7 643.3,408.0 643.6,408.0 643.9,408.0 644.2,352.1 644.5,408.0 644.8,341.6 645.1,408.0 645.4,408.0 645.7,333.4 645.9,408.0 646.2,347.7 646.5,348.9 646.8,346.9 647.1,382.6 647.4,408.0 647.7,338.7 648.0,408.0"/><path stroke="#d62728" d="M90.0,315.7 90.4,408.0 90.7,322.5 91.1,329.4 91.5,328.4 91.9,326.5 92.2,408.0 92.6,326.6 93.0,332.6 93.3,312.2 93.7,323.6 94.1,327.5 94.5,327.0 94.8,330.4 95.2,335.0 95.6,327.8 96.0,322.1 96.3,326.6 96.7,319.8 97.1,326.3 97.4,324.8 97.8,317.4 98.2,321.8 98.6,328.8 98.9,326.2 99.3,321.8 99.7,316.1 100.0,326.8 100.4,326.6 100.8,319.6 101.2,332.7 101.5,327.0 101.9,320.1 102.3,321.6 102.6,324.3 103.0,321.1 103.4,408.0 103.8,319.5 104.1,333.5 104.5,349.1 104.9,323.2 105.3,321.0 105.6,328.2 106.0,335.1 106.4,324.7 106.7,325.2 107.1,318.0 107.5,320.8 107.9,323.7 108.2,319.1 108.6,326.3 109.0,333.0 109.3,321.5 109.7,321.6 110.1,326.3 110.5,331.3 110.8,323.5 111.2,408.0 111.6,321.0 111.9,322.0 112.3,347.3 112.7,324.5 113.1,333.4 113.4,320.7 113.8,408.0 114.2,332.8 114.6,320.9 114.9,318.9 115.3,408.0 115.7,328.5 116.0,322.9 116.4,329.5 116.8,317.3 117.2,336.5 117.5,322.7 117.9,334.4 118.3,318.0 118.6,325.0 119.0,327.5 119.4,350.0 119.8,317.0 120.1,320.7 120.5,320.7 120.9,319.0 121.2,322.7 121.6,329.7 122.0,331.3 122.4,331.3 122.7,318.1 123.1,341.5 123.5,329.3 123.9,327.0 124.2,323.4 124.6,321.5 125.0,337.3 125.3,350.0 125.7,324.8 126.1,318.7 126.5,320.7 126.8,323.5 127.2,327.0 127.6,323.0 127.9,326.4 128.3,320.4 128.7,331.2 129.1,323.9 129.4,325.5 129.8,321.7 130.2,323.4 130.5,314.2 130.9,317.6 131.3,317.6 131.7,408.0 132.0,327.1 132.4,329.3 132.8,321.7 133.2,408.0 133.5,318.8 133.9,319.3 134.3,337.9 134.6,333.2 135.0,331.2 135.4,324.4 135.8,321.2 136.1,315.7 136.5,326.0 136.9,320.6 137.2,323.7 137.6,316.7 138.0,320.7 138.4,318.1 138.7,334.3 139.1,326.0 139.5,331.2 139.8,317.6 140.2,321.1 140.6,326.8 141.0,327.9 141.3,321.9 141.7,330.1 142.1,332.5 142.5,321.9 142.8,314.5 143.2,326.3 143.6,328.7 143.9,335.5 144.3,338.2 144.7,321.7 145.1,320.2 145.4,324.6 145.8,322.7 146.2,323.9 146.5,323.8 146.9,342.0 147.3,327.9 147.7,324.0 148.0,330.8 148.4,328.0 148.8,331.1 149.1,326.9 149.5,320.2 149.9,327.4 150.3,325.6 150.6,320.3 151.0,321.1 151.4,316.9 151.8,408.0 152.1,320.1 152.5,328.0 152.9,323.8 153.2,320.2 153.6,319.2 154.0,319.4 154.4,323.7 154.7,317.2 155.1,326.5 155.5,325.5 155.8,320.4 156.2,328.5 156.6,315.4 157.0,319.4 157.3,315.4 157.7,324.7 158.1,327.2 158.4,323.6 158.8,320.7 159.2,328.8 159.6,322.4 159.9,324.7 160.3,317.2 160.7,329.5 161.1,319.3 161.4,329.3 161.8,332.4 162.2,329.9 162.5,335.3 162.9,323.7 163.3,319.4 163.7,323.6 164.0,321.2 164.4,317.1 164.8,323.0 165.1,323.4 165.5,326.3 165.9,343.1 166.3,320.5 166.6,347.7 167.0,321.0 167.4,324.6 167.7,319.0 168.1,324.9 168.5,330.9 168.9,322.5 169.2,328.5 169.6,325.6 170.0,324.2 170.4,325.3 170.7,325.7 171.1,330.9 171.5,325.7 171.8,408.0 172.2,325.5 172.6,335.0 173.0,319.1 173.3,318.5 173.7,354.5 174.1,323.6 174.4,325.2 174.8,332.9 175.2,321.6 175.6,327.5 175.9,345.6 176.3,326.1 176.7,325.3 177.0,323.8 177.4,334.9 177.8,321.3 178.2,320.7 178.5,333.7 178.9,328.9 179.3,324.9 179.7,328.2 180.0,317.0 180.4,323.3 180.8,332.1 181.1,329.9 181.5,324.7 181.9,315.4 182.3,325.5 182.6,323.7 183.0,321.8 183.4,324.6 183.7,315.5 184.1,327.8 184.5,320.8 184.9,323.5 185.2,321.3 185.6,333.5 186.0,317.1 186.3,325.1 186.7,324.2 187.1,330.9 187.5,329.2 187.8,321.6 188.2,319.9 188.6,320.8 189.0,319.1 189.3,321.0 189.7,324.2 190.1,320.5 190.4,321.5 190.8,324.9 191.2,321.0 191.6,318.8 191.9,323.1 192.3,326.4 192.7,321.0 193.0,316.9 193.4,325.5 193.8,324.8 194.2,325.1 194.5,319.1 194.9,342.0 195.3,322.5 195.6,319.3 196.0,329.4 196.4,318.3 196.8,321.8 197.1,327.5 197.5,323.3 197.9,336.5 198.3,327.6 198.6,317.3 199.0,329.9 199.4,317.2 199.7,324.7 200.1,320.0 200.5,324.1 200.9,351.4 201.2,327.5 201.6,323.4 202.0,331.9 202.3,333.8 202.7,322.6 203.1,328.0 203.5,337.9 203.8,328.2 204.2,320.6 204.6,326.8 204.9,320.3 205.3,318.3 205.7,324.1 206.1,331.5 206.4,333.0 206.8,324.4 207.2,320.6 207.6,323.0 207.9,321.8 208.3,326.6 208.7,322.9 209.0,326.7 209.4,325.9 209.8,332.6 210.2,335.4 210.5,326.7 210.9,331.0 211.3,329.8 211.6,321.4 212.0,324.7 212.4,314.9 212.8,320.5 213.1,327.6 213.5,321.0 213.9,322.6 214.2,327.9 214.6,319.9 215.0,328.4 215.4,408.0 215.7,321.0 216.1,327.4 216.5,318.7 216.9,327.5 217.2,331.1 217.6,318.6 218.0,330.3 218.3,323.3 218.7,318.9 219.1,323.7 219.5,324.5 219.8,323.7 220.2,320.9 220.6,328.3 220.9,321.7 221.3,321.8 221.7,316.6 222.1,325.7 222.4,328.9 222.8,321.3 223.2,326.0 223.5,322.9 223.9,323.6 224.3,319.9 224.7,327.3 225.0,324.5 225.4,347.9 225.8,328.6 226.2,318.9 226.5,327.4 226.9,327.5 227.3,330.6 227.6,321.9 228.0,323.4 228.4,330.3 228.8,321.6 229.1,323.1 229.5,321.3 229.9,327.0 230.2,318.4 230.6,322.5 231.0,324.6 231.4,326.4 231.7,325.1 232.1,321.0 232.5,325.2 232.8,320.4 233.2,321.9 233.6,319.6 234.0,321.2 234.3,324.3 234.7,335.4 235.1,322.9 235.5,321.3 235.8,323.4 236.2,322.1 236.6,326.0 236.9,325.6 237.3,328.3 237.7,319.7 238.1,323.5 238.4,326.1 238.8,330.5 239.2,324.6 239.5,319.5 239.9,322.4 240.3,327.1 240.7,319.5 241.0,319.6 241.4,320.8 241.8,321.4 242.1,320.3 242.5,322.2 242.9,321.4 243.3,327.2 243.6,319.4 244.0,323.2 244.4,318.2 244.8,335.0 245.1,321.6 245.5,320.6 245.9,324.7 246.2,321.7 246.6,320.6 247.0,320.9 247.4,324.3 247.7,322.6 248.1,319.1 248.5,318.3 248.8,321.1 249.2,320.9 249.6,320.3 250.0,318.0 250.3,323.7 250.7,324.4 251.1,319.6 251.4,322.9 251.8,321.0 252.2,318.9 252.6,317.7 252.9,321.6 253.3,316.6 253.7,323.2 254.1,316.7 254.4,321.8 254.8,320.6 255.2,315.8 255.5,317.8 255.9,318.4 256.3,317.3 256.7,315.2 257.0,316.0 257.4,315.7 257.8,313.5 258.1,316.5 258.5,315.8 258.9,315.6 259.3,312.4 259.6,312.5 260.0,311.8 260.4,313.7 260.7,313.6 261.1,311.8 261.5,313.5 261.9,311.4 262.2,311.3 262.6,313.2 263.0,312.0 263.4,311.8 263.7,309.1 264.1,307.9 264.5,311.0 264.8,310.6 265.2,313.8 265.6,309.8 266.0,309.8 266.3,311.2 266.7,308.8 267.1,312.0 267.4,310.1 267.8,309.6 268.2,311.5 268.6,308.7 268.9,308.5 269.3,311.7 269.7,311.8 270.0,309.0 270.4,309.8 270.8,311.5 271.2,310.2 271.5,309.9 271.9,310.0 272.3,308.8 272.7,309.3 273.0,307.7 273.4,308.1 273.8,309.0 274.1,308.5 274.5,308.2 274.9,308.9 275.3,311.5 275.6,308.7 276.0,309.7 276.4,307.9 276.7,309.7 277.1,309.1 277.5,309.4 277.9,307.8 278.2,309.6 278.6,310.2 279.0,309.4 279.3,310.4 279.7,309.6 280.1,309.8 280.5,309.4 280.8,307.5 281.2,310.3 281.6,309.8 282.0,310.1 282.3,308.9 282.7,311.5 283.1,310.7 283.4,309.9 283.8,309.1 284.2,309.9 284.6,310.5 284.9,311.0 285.3,309.1 285.7,308.0 286.0,309.4 286.4,309.6 286.8,309.2 287.2,311.1 287.5,310.2 287.9,310.2 288.3,309.4 288.6,309.8 289.0,311.5 289.4,308.4 289.8,307.7 290.1,310.2 290.5,309.3 290.9,309.4 291.3,308.8 291.6,311.9 292.0,307.8 292.4,310.4 292.7,308.2 293.1,309.7 293.5,310.3 293.9,310.0 294.2,308.7 294.6,311.0 295.0,310.3 295.3,310.5 295.7,312.3 296.1,308.2 296.5,309.0 296.8,309.8 297.2,308.3 297.6,311.2 297.9,309.9 298.3,307.7 298.7,308.5 299.1,313.2 299.4,314.9 299.8,310.7 300.2,307.8 300.6,309.4 300.9,308.8 301.3,306.4 301.7,306.0 302.0,303.4 302.4,301.5 302.8,300.4 303.2,299.2 303.5,298.5 303.9,297.0 304.3,296.4 304.6,295.0 305.0,294.0 305.4,294.4 305.8,294.2 306.1,293.4 306.5,292.9 306.9,292.5 307.2,292.4 307.6,292.7 308.0,292.7 308.4,292.3 308.7,292.8 309.1,292.5 309.5,292.8 309.9,292.9 310.2,293.1 310.6,293.5 311.0,293.8 311.3,294.7 311.7,294.9 312.1,295.6 312.5,296.3 312.8,296.8 313.2,298.0 313.6,299.1 313.9,300.1 314.3,301.1 314.7,302.0 315.1,303.2 315.4,300.1 315.8,298.1 316.2,296.0 316.5,294.0 316.9,291.7 317.3,289.7 317.7,288.2 318.0,286.1 318.4,284.4 318.8,282.9 319.2,281.4 319.5,279.9 319.9,278.7 320.3,277.6 320.6,276.4 321.0,275.4 321.4,274.4 321.8,273.6 322.1,272.7 322.5,272.0 322.9,271.3 323.2,270.7 323.6,270.2 324.0,269.8 324.4,269.4 324.7,269.0 325.1,268.8 325.5,268.6 325.8,268.4 326.2,268.4 326.6,268.3 327.0,268.3 327.3,268.3 327.7,268.3 328.1,268.5 328.5,268.7 328.8,269.0 329.2,269.3 329.6,269.7 329.9,270.2 330.3,270.9 330.7,271.6 331.1,272.4 331.4,273.3 331.8,274.3 332.2,275.4 332.5,276.7 332.9,278.0 333.3,279.5 333.7,281.1 334.0,282.8 334.4,284.4 334.8,286.4 335.1,288.4 335.5,290.8 335.9,291.7 336.3,288.2 336.6,284.7 337.0,281.6 337.4,278.4 337.8,275.4 338.1,272.7 338.5,270.2 338.9,267.9 339.2,265.6 339.6,263.6 340.0,261.6 340.4,259.9 340.7,258.3 341.1,256.8 341.5,255.5 341.8,254.3 342.2,253.3 342.6,252.4 343.0,251.6 343.3,250.9 343.7,250.4 344.1,250.0 344.4,249.6 344.8,249.4 345.2,249.3 345.6,249.2 345.9,249.2 346.3,249.3 346.7,249.4 347.1,249.6 347.4,250.0 347.8,250.5 348.2,251.1 348.5,251.8 348.9,252.7 349.3,253.8 349.7,255.0 350.0,256.4 350.4,257.9 350.8,259.6 351.1,261.4 351.5,263.4 351.9,265.7 352.3,268.2 352.6,270.7 353.0,273.5 353.4,276.5 353.7,279.7 354.1,283.2 354.5,286.6 354.9,281.8 355.2,277.1 355.6,272.6 356.0,268.1 356.4,264.0 356.7,259.9 357.1,256.0 357.5,252.4 357.8,248.9 358.2,245.6 358.6,242.4 359.0,239.4 359.3,236.6 359.7,233.9 360.1,231.4 360.4,229.0 360.8,226.8 361.2,224.8 361.6,222.9 361.9,221.2 362.3,219.6 362.7,218.1 363.0,216.8 363.4,215.6 363.8,214.6 364.2,213.6 364.5,212.8 364.9,212.2 365.3,211.6 365.7,211.2 366.0,210.8 366.4,210.6 366.8,210.4 367.1,210.3 367.5,210.3 367.9,210.4 368.3,210.6 368.6,211.0 369.0,211.6 369.4,212.5 369.7,213.6 370.1,215.0 370.5,216.6 370.9,218.6 371.2,220.8 371.6,223.4 372.0,226.3 372.3,229.5 372.7,233.1 373.1,237.0 373.5,241.3 373.8,245.9 374.2,250.6 374.6,244.0 375.0,237.6 375.3,231.5 375.7,225.7 376.1,220.2 376.4,214.9 376.8,210.0 377.2,205.4 377.6,201.0 377.9,196.9 378.3,193.1 378.7,189.5 379.0,186.2 379.4,183.2 379.8,180.4 380.2,177.9 380.5,175.6 380.9,173.5 381.3,171.7 381.6,170.1 382.0,168.7 382.4,167.5 382.8,166.5 383.1,165.7 383.5,165.1 383.9,164.7 384.3,164.4 384.6,164.2 385.0,164.2 385.4,164.2 385.7,164.4 386.1,164.6 386.5,165.0 386.9,165.6 387.2,166.3 387.6,167.2 388.0,168.3 388.3,169.6 388.7,171.1 389.1,172.7 389.5,174.6 389.8,176.7 390.2,179.1 390.6,181.6 390.9,184.4 391.3,187.5 391.7,190.7 392.1,194.3 392.4,198.0 392.8,202.0 393.2,206.3 393.6,210.9 393.9,215.7 394.3,220.7 394.7,226.1 395.0,231.7 395.4,237.6 395.8,243.7 396.2,236.8 396.5,229.6 396.9,222.8 397.3,216.3 397.6,210.2 398.0,204.4 398.4,198.9 398.8,193.7 399.1,188.9 399.5,184.4 399.9,180.2 400.2,176.3 400.6,172.6 401.0,169.3 401.4,166.3 401.7,163.6 402.1,161.1 402.5,158.9 402.9,157.0 403.2,155.3 403.6,153.9 404.0,152.7 404.3,151.7 404.7,150.9 405.1,150.4 405.5,150.0 405.8,149.8 406.2,149.7 406.6,149.7 406.9,149.9 407.3,150.2 407.7,150.8 408.1,151.6 408.4,152.6 408.8,153.9 409.2,155.5 409.5,157.3 409.9,159.5 410.3,161.9 410.7,164.7 411.0,167.8 411.4,171.3 411.8,175.1 412.2,179.2 412.5,183.7 412.9,188.6 413.3,193.8 413.6,199.4 414.0,205.4 414.4,211.8 414.8,216.5 415.1,209.9 415.5,203.7 415.9,198.0 416.2,192.6 416.6,187.7 417.0,183.1 417.4,178.9 417.7,175.1 418.1,171.7 418.5,168.6 418.8,165.9 419.2,163.5 419.6,161.5 420.0,159.7 420.3,158.3 420.7,157.1 421.1,156.2 421.5,155.6 421.8,155.2 422.2,155.0 422.6,155.0 422.9,155.1 423.3,155.2 423.7,155.6 424.1,156.1 424.4,156.7 424.8,157.6 425.2,158.7 425.5,160.0 425.9,161.5 426.3,163.2 426.7,165.2 427.0,167.4 427.4,169.9 427.8,172.6 428.1,175.6 428.5,178.8 428.9,182.3 429.3,186.1 429.6,190.2 430.0,194.6 430.4,199.2 430.8,204.2 431.1,209.4 431.5,215.0 431.9,220.8 432.2,215.9 432.6,206.0 433.0,197.3 433.4,189.7 433.7,183.3 434.1,178.0 434.5,173.8 434.8,170.5 435.2,168.2 435.6,166.7 436.0,166.0 436.3,165.8 436.7,165.8 437.1,165.8 437.4,165.8 437.8,165.8 438.2,165.8 438.6,165.8 438.9,165.8 439.3,165.8 439.7,165.9 440.1,166.7 440.4,168.9 440.8,172.5 441.2,177.8 441.5,184.8 441.9,193.8 442.3,204.7 442.7,214.2 443.0,219.5 443.4,224.9 443.8,230.2 444.1,235.5 444.5,240.8 444.9,246.1 445.3,251.4 445.6,256.8 446.0,262.1 446.4,267.3 446.7,272.4 447.1,275.6 447.5,278.8 447.9,281.8 448.2,284.9 448.6,288.2 449.0,291.3 449.4,294.6 449.7,297.2 450.1,299.9 450.5,301.3 450.8,301.4 451.2,302.5 451.6,303.3 452.0,303.8 452.3,304.7 452.7,305.0 453.1,304.6 453.4,305.4 453.8,306.4 454.2,304.5 454.6,306.5 454.9,307.2 455.3,307.6 455.7,306.7 456.0,306.7 456.4,307.7 456.8,307.4 457.2,310.4 457.5,309.4 457.9,309.9 458.3,309.7 458.7,309.5 459.0,313.2 459.4,307.3 459.8,312.3 460.1,311.0 460.5,310.7 460.9,311.0 461.3,312.1 461.6,318.3 462.0,314.9 462.4,312.1 462.7,315.1 463.1,315.5 463.5,318.6 463.9,312.2 464.2,313.4 464.6,316.2 465.0,314.9 465.3,315.1 465.7,317.4 466.1,315.8 466.5,315.0 466.8,314.7 467.2,313.6 467.6,316.1 468.0,317.3 468.3,315.7 468.7,318.2 469.1,320.1 469.4,314.8 469.8,318.3 470.2,317.3 470.6,316.3 470.9,320.9 471.3,316.6 471.7,317.2 472.0,318.7 472.4,317.7 472.8,315.5 473.2,319.6 473.5,320.0 473.9,322.2 474.3,317.3 474.6,319.0 475.0,321.6 475.4,320.0 475.8,316.8 476.1,317.4 476.5,319.6 476.9,322.0 477.3,322.0 477.6,316.6 478.0,319.6 478.4,322.0 478.7,320.8 479.1,319.2 479.5,329.5 479.9,319.7 480.2,320.5 480.6,318.5 481.0,328.6 481.3,327.6 481.7,331.3 482.1,321.3 482.5,327.7 482.8,330.8 483.2,332.5 483.6,323.2 483.9,319.3 484.3,322.9 484.7,321.0 485.1,323.2 485.4,329.8 485.8,325.9 486.2,320.1 486.6,321.7 486.9,331.0 487.3,321.0 487.7,322.8 488.0,321.2 488.4,337.3 488.8,321.6 489.2,337.4 489.5,321.3 489.9,337.8 490.3,325.0 490.6,321.4 491.0,325.8 491.4,325.8 491.8,333.9 492.1,326.9 492.5,320.9 492.9,324.5 493.2,321.3 493.6,322.5 494.0,335.3 494.4,323.8 494.7,327.7 495.1,336.6 495.5,327.2 495.9,333.9 496.2,348.1 496.6,326.0 497.0,331.3 497.3,329.5 497.7,326.0 498.1,329.0 498.5,350.4 498.8,342.5 499.2,332.9 499.6,327.1 499.9,330.8 500.3,324.9 500.7,337.9 501.1,347.6 501.4,328.9 501.8,326.6 502.2,331.6 502.5,358.1 502.9,333.0 503.3,327.3 503.7,336.0 504.0,325.0 504.4,342.4 504.8,328.1 505.2,335.4 505.5,356.2 505.9,341.8 506.3,353.2 506.6,331.5 507.0,325.5 507.4,327.2 507.8,329.8 508.1,408.0 508.5,330.5 508.9,327.2 509.2,341.1 509.6,334.9 510.0,335.8 510.4,334.4 510.7,408.0 511.1,333.9 511.5,345.8 511.8,333.2 512.2,408.0 512.6,343.9 513.0,408.0 513.3,328.4 513.7,325.3 514.1,329.4 514.5,339.9 514.8,338.1 515.2,332.4 515.6,357.3 515.9,408.0 516.3,327.1 516.7,336.9 517.1,330.0 517.4,338.2 517.8,351.9 518.2,408.0 518.5,333.3 518.9,335.7 519.3,408.0 519.7,408.0 520.0,326.1 520.4,330.7 520.8,365.3 521.1,344.2 521.5,332.2 521.9,328.2 522.3,408.0 522.6,332.6 523.0,335.4 523.4,331.4 523.8,408.0 524.1,345.7 524.5,333.3 524.9,358.6 525.2,336.6 525.6,343.1 526.0,337.2 526.4,328.8 526.7,330.9 527.1,408.0 527.5,333.3 527.8,408.0 528.2,353.7 528.6,331.8 529.0,330.7 529.3,326.4 529.7,372.1 530.1,339.3 530.4,334.4 530.8,330.6 531.2,328.7 531.6,359.0 531.9,408.0 532.3,408.0 532.7,331.6 533.1,408.0 533.4,408.0 533.8,329.9 534.2,327.4 534.5,345.6 534.9,331.6 535.3,351.4 535.7,408.0 536.0,338.9 536.4,408.0 536.8,344.8 537.1,335.3 537.5,327.9 537.9,329.3 538.3,408.0 538.6,349.3 539.0,408.0 539.4,408.0 539.7,327.4 540.1,408.0 540.5,363.4 540.9,334.0 541.2,408.0 541.6,352.8 542.0,408.0 542.4,332.1 542.7,375.9 543.1,408.0 543.5,408.0 543.8,340.1 544.2,351.3 544.6,408.0 545.0,408.0 545.3,381.7 545.7,348.7 546.1,372.7 546.4,336.5 546.8,408.0 547.2,408.0 547.6,408.0 547.9,379.7 548.3,328.6 548.7,356.4 549.0,364.4 549.4,408.0 549.8,348.4 550.2,408.0 550.5,408.0 550.9,408.0 551.3,408.0 551.7,408.0 552.0,408.0 552.4,408.0 552.8,351.0 553.1,408.0 553.5,332.4 553.9,334.2 554.3,354.5 554.6,330.8 555.0,408.0 555.4,408.0 555.7,332.1 556.1,329.6 556.5,408.0 556.9,383.3 557.2,408.0 557.6,339.4 558.0,333.2 558.3,408.0 558.7,336.5 559.1,347.7 559.5,408.0 559.8,408.0 560.2,408.0 560.6,408.0 561.0,347.6 561.3,408.0 561.7,331.2 562.1,408.0 562.4,397.4 562.8,336.5 563.2,408.0 563.6,408.0 563.9,339.0 564.3,340.1 564.7,356.2 565.0,337.3 565.4,342.1 565.8,338.2 566.2,333.4 566.5,337.7 566.9,333.0 567.3,371.9 567.6,334.1 568.0,337.0 568.4,408.0 568.8,351.2 569.1,331.7 569.5,370.0 569.9,408.0 570.3,408.0 570.6,334.3 571.0,408.0 571.4,408.0 571.7,339.6 572.1,329.9 572.5,343.8 572.9,408.0 573.2,408.0 573.6,408.0 574.0,337.8 574.3,331.9 574.7,336.5 575.1,408.0 575.5,340.2 575.8,335.9 576.2,367.8 576.6,408.0 576.9,353.0 577.3,375.4 577.7,408.0 578.1,408.0 578.4,408.0 578.8,337.4 579.2,408.0 579.6,341.6 579.9,408.0 580.3,408.0 580.7,337.7 581.0,331.6 581.4,338.5 581.8,337.6 582.2,408.0 582.5,333.2 582.9,330.3 583.3,346.0 583.6,338.3 584.0,408.0 584.4,408.0 584.8,341.5 585.1,408.0 585.5,408.0 585.9,346.0 586.2,408.0 586.6,349.4 587.0,340.0 587.4,338.1 587.7,408.0 588.1,408.0 588.5,335.8 588.9,333.1 589.2,332.8 589.6,351.8 590.0,408.0 590.3,335.1 590.7,408.0 591.1,331.5 591.5,357.9 591.8,408.0 592.2,408.0 592.6,332.7 592.9,408.0 593.3,408.0 593.7,408.0 594.1,408.0 594.4,331.4 594.8,408.0 595.2,336.0 595.5,408.0 595.9,336.8 596.3,334.4 596.7,332.5 597.0,408.0 597.4,339.6 597.8,408.0 598.2,408.0 598.5,408.0 598.9,330.8 599.3,332.9 599.6,338.1 600.0,408.0 600.4,408.0 600.8,337.7 601.1,354.3 601.5,335.0 601.9,341.0 602.2,408.0 602.6,354.0 603.0,335.8 603.4,392.9 603.7,408.0 604.1,408.0 604.5,338.4 604.8,349.0 605.2,335.1 605.6,338.7 606.0,346.5 606.3,339.1 606.7,408.0 607.1,408.0 607.5,408.0 607.8,408.0 608.2,408.0 608.6,408.0 608.9,336.0 609.3,408.0 609.7,408.0 610.1,408.0 610.4,408.0 610.8,408.0 611.2,408.0 611.5,395.1 611.9,333.0 612.3,343.5 612.7,408.0 613.0,331.2 613.4,334.4 613.8,332.8 614.1,408.0 614.5,408.0 614.9,333.9 615.3,335.7 615.6,342.9 616.0,408.0 616.4,408.0 616.8,408.0 617.1,331.4 617.5,408.0 617.9,333.6 618.2,338.1 618.6,353.1 619.0,339.2 619.4,408.0 619.7,408.0 620.1,335.2 620.5,408.0 620.8,408.0 621.2,408.0 621.6,340.4 622.0,336.7 622.3,336.1 622.7,408.0 623.1,408.0 623.4,332.5 623.8,368.1 624.2,408.0 624.6,408.0 624.9,334.4 625.3,408.0 625.7,335.0 626.1,340.6 626.4,408.0 626.8,333.0 627.2,332.3 627.5,408.0 627.9,364.7 628.3,361.0 628.7,408.0 629.0,331.1 629.4,408.0 629.8,341.3 630.1,332.4 630.5,333.1 630.9,347.2 631.3,331.4 631.6,408.0 632.0,338.2 632.4,408.0 632.7,408.0 633.1,408.0 633.5,349.2 633.9,408.0 634.2,408.0 634.6,354.6 635.0,330.9 635.4,332.0 635.7,353.2 636.1,408.0 636.5,339.5 636.8,408.0 637.2,408.0 637.6,363.8 638.0,408.0 638.3,408.0 638.7,336.7 639.1,408.0 639.4,408.0 639.8,364.6 640.2,408.0 640.6,330.3 640.9,365.5 641.3,342.0 641.7,332.9 642.0,367.3 642.4,340.3 642.8,408.0 643.2,334.7 643.5,362.4 643.9,408.0 644.3,332.2 644.7,408.0 645.0,408.0 645.4,333.4 645.8,347.9 646.1,342.5 646.5,372.2 646.9,376.9 647.3,334.3 647.6,408.0 648.0,331.4"/><path stroke="#9467bd" d="M90.0,311.4 90.5,311.1 90.9,310.7 91.4,310.3 91.9,310.5 92.3,310.1 92.8,310.6 93.3,311.2 93.7,311.3 94.2,311.4 94.7,311.3 95.1,311.0 95.6,310.7 96.0,310.6 96.5,310.9 97.0,311.0 97.4,311.1 97.9,311.5 98.4,311.3 98.8,311.2 99.3,311.3 99.8,311.2 100.2,311.2 100.7,311.2 101.2,311.0 101.6,310.8 102.1,310.8 102.6,310.7 103.0,310.9 103.5,311.0 104.0,310.8 104.4,310.6 104.9,310.5 105.3,310.1 105.8,310.0 106.3,310.4 106.7,310.5 107.2,310.4 107.7,310.7 108.1,311.0 108.6,310.7 109.1,310.7 109.5,310.7 110.0,310.6 110.5,310.5 110.9,310.1 111.4,309.8 111.9,310.3 112.3,310.4 112.8,310.7 113.2,311.2 113.7,311.6 114.2,311.3 114.6,310.8 115.1,310.3 115.6,310.4 116.0,310.2 116.5,310.3 117.0,310.8 117.4,310.8 117.9,310.8 118.4,310.9 118.8,310.8 119.3,310.6 119.8,310.6 120.2,310.2 120.7,310.1 121.2,310.5 121.6,310.4 122.1,310.6 122.6,310.4 123.0,310.7 123.5,310.6 123.9,310.4 124.4,310.3 124.9,310.3 125.3,310.1 125.8,309.6 126.3,310.0 126.7,310.5 127.2,310.8 127.7,310.7 128.1,310.8 128.6,310.5 129.1,310.6 129.5,310.5 130.0,310.5 130.5,310.8 130.9,311.1 131.4,310.8 131.8,310.7 132.3,311.0 132.8,310.8 133.2,311.0 133.7,310.9 134.2,311.0 134.6,311.0 135.1,310.8 135.6,310.6 136.0,310.9 136.5,310.6 137.0,310.3 137.4,310.3 137.9,310.5 138.4,310.1 138.8,310.4 139.3,310.9 139.8,311.0 140.2,310.5 140.7,310.7 141.2,310.5 141.6,310.0 142.1,309.9 142.5,310.3 143.0,310.2 143.5,310.2 143.9,310.5 144.4,310.5 144.9,310.3 145.3,310.4 145.8,310.3 146.3,310.2 146.7,310.3 147.2,310.4 147.7,310.3 148.1,310.5 148.6,310.6 149.1,310.7 149.5,310.6 150.0,310.5 150.4,310.4 150.9,310.5 151.4,310.2 151.8,310.1 152.3,310.4 152.8,310.5 153.2,310.3 153.7,310.5 154.2,310.5 154.6,310.4 155.1,310.9 155.6,310.8 156.0,310.9 156.5,311.0 157.0,310.8 157.4,310.5 157.9,310.6 158.4,310.4 158.8,310.3 159.3,310.5 159.8,310.6 160.2,310.4 160.7,310.1 161.1,310.3 161.6,309.9 162.1,309.9 162.5,310.0 163.0,310.3 163.5,310.5 163.9,310.7 164.4,310.6 164.9,311.0 165.3,311.0 165.8,310.8 166.3,310.7 166.7,310.6 167.2,310.4 167.7,310.5 168.1,310.5 168.6,310.7 169.1,310.9 169.5,310.5 170.0,310.5 170.4,310.5 170.9,310.0 171.4,310.0 171.8,310.3 172.3,310.1 172.8,310.1 173.2,310.3 173.7,310.6 174.2,310.4 174.6,310.3 175.1,310.0 175.6,310.0 176.0,309.7 176.5,309.7 177.0,309.6 177.4,310.0 177.9,310.1 178.4,309.8 178.8,309.7 179.3,309.8 179.7,309.9 180.2,309.8 180.7,310.4 181.1,310.2 181.6,310.4 182.1,310.1 182.5,309.9 183.0,309.8 183.5,309.8 183.9,309.6 184.4,309.6 184.9,309.8 185.3,309.8 185.8,309.8 186.3,309.7 186.7,309.9 187.2,310.0 187.7,309.7 188.1,309.9 188.6,310.1 189.0,310.1 189.5,310.0 190.0,310.0 190.4,310.0 190.9,310.0 191.4,310.0 191.8,309.7 192.3,309.5 192.8,309.5 193.2,309.7 193.7,309.6 194.2,310.1 194.6,310.3 195.1,310.2 195.6,310.0 196.0,309.8 196.5,309.2 196.9,309.2 197.4,309.3 197.9,309.2 198.3,309.2 198.8,309.7 199.3,309.9 199.7,309.9 200.2,310.4 200.7,310.7 201.1,310.3 201.6,310.3 202.1,310.1 202.5,310.0 203.0,309.6 203.5,309.8 203.9,309.5 204.4,309.8 204.9,309.7 205.3,309.9 205.8,309.8 206.2,309.8 206.7,309.6 207.2,309.6 207.6,309.6 208.1,309.6 208.6,309.9 209.0,309.9 209.5,310.0 210.0,310.2 210.4,310.0 210.9,310.2 211.4,309.9 211.8,309.7 212.3,309.8 212.8,310.3 213.2,310.0 213.7,310.4 214.2,310.5 214.6,310.0 215.1,309.7 215.6,309.7 216.0,309.6 216.5,309.3 216.9,309.5 217.4,309.3 217.9,308.9 218.3,308.9 218.8,309.2 219.3,308.8 219.7,309.2 220.2,309.4 220.7,309.2 221.1,309.4 221.6,309.7 222.1,309.5 222.5,309.6 223.0,309.6 223.5,309.4 223.9,309.1 224.4,309.0 224.8,309.0 225.3,309.2 225.8,309.3 226.2,309.5 226.7,309.5 227.2,309.6 227.6,309.7 228.1,309.5 228.6,309.7 229.0,309.9 229.5,309.5 230.0,309.2 230.4,309.6 230.9,309.3 231.4,309.5 231.8,309.7 232.3,310.0 232.8,309.9 233.2,310.1 233.7,309.9 234.2,309.9 234.6,309.6 235.1,309.3 235.5,309.2 236.0,308.8 236.5,309.1 236.9,309.0 237.4,309.0 237.9,309.1 238.3,309.3 238.8,309.1 239.3,309.5 239.7,309.7 240.2,309.8 240.7,309.8 241.1,309.7 241.6,309.9 242.1,310.0 242.5,310.1 243.0,310.0 243.5,310.1 243.9,309.8 244.4,309.7 244.8,309.6 245.3,309.7 245.8,309.4 246.2,309.3 246.7,309.5 247.2,309.3 247.6,309.1 248.1,309.2 248.6,309.3 249.0,309.0 249.5,309.0 250.0,309.1 250.4,309.2 250.9,308.9 251.4,308.9 251.8,308.6 252.3,308.6 252.8,308.7 253.2,308.6 253.7,308.7 254.1,308.7 254.6,308.7 255.1,308.5 255.5,308.7 256.0,308.5 256.5,308.5 256.9,308.7 257.4,308.9 257.9,308.7 258.3,309.1 258.8,309.4 259.3,309.1 259.7,309.0 260.2,308.7 260.7,308.7 261.1,308.6 261.6,308.9 262.1,308.8 262.5,309.2 263.0,309.0 263.4,308.6 263.9,307.9 264.4,308.4 264.8,307.8 265.3,307.6 265.8,308.1 266.2,308.3 266.7,308.0 267.2,308.2 267.6,308.7 268.1,308.1 268.6,308.4 269.0,308.6 269.5,308.4 270.0,308.0 270.4,308.3 270.9,308.2 271.4,308.0 271.8,308.0 272.3,308.1 272.7,308.1 273.2,308.0 273.7,308.2 274.1,308.8 274.6,308.6 275.1,308.5 275.5,308.5 276.0,308.3 276.5,307.9 276.9,307.7 277.4,307.8 277.9,307.8 278.3,308.1 278.8,308.1 279.3,308.3 279.7,308.4 280.2,308.4 280.6,308.5 281.1,308.7 281.6,308.7 282.0,308.5 282.5,308.3 283.0,308.0 283.4,307.8 283.9,307.6 284.4,307.8 284.8,307.8 285.3,307.6 285.8,307.3 286.2,307.5 286.7,307.4 287.2,307.6 287.6,307.9 288.1,308.2 288.6,308.3 289.0,308.2 289.5,307.9 290.0,307.9 290.4,308.1 290.9,308.1 291.3,308.1 291.8,308.0 292.3,308.2 292.7,307.9 293.2,307.8 293.7,307.7 294.1,307.7 294.6,307.3 295.1,307.7 295.5,307.7 296.0,307.8 296.5,308.2 296.9,308.2 297.4,308.2 297.9,308.1 298.3,308.3 298.8,308.1 299.2,308.0 299.7,307.8 300.2,308.0 300.6,308.0 301.1,308.2 301.6,308.3 302.0,308.6 302.5,308.4 303.0,308.0 303.4,308.0 303.9,308.1 304.4,308.0 304.8,307.5 305.3,307.6 305.8,307.7 306.2,307.6 306.7,307.5 307.2,307.9 307.6,308.3 308.1,308.3 308.6,308.3 309.0,308.5 309.5,308.5 309.9,308.2 310.4,307.9 310.9,307.7 311.3,307.4 311.8,307.4 312.3,307.2 312.7,307.2 313.2,307.4 313.7,307.5 314.1,307.4 314.6,307.3 315.1,307.5 315.5,307.4 316.0,307.0 316.5,307.2 316.9,307.5 317.4,307.6 317.9,307.7 318.3,307.8 318.8,307.8 319.2,307.4 319.7,307.3 320.2,307.2 320.6,307.4 321.1,307.1 321.6,307.5 322.0,307.1 322.5,307.2 323.0,307.4 323.4,307.7 323.9,307.6 324.4,307.6 324.8,307.6 325.3,307.4 325.8,307.0 326.2,306.9 326.7,307.3 327.1,307.4 327.6,307.6 328.1,307.9 328.5,307.7 329.0,307.7 329.5,307.7 329.9,307.4 330.4,307.4 330.9,307.7 331.3,307.6 331.8,307.4 332.3,307.5 332.7,307.3 333.2,307.6 333.7,307.9 334.1,307.9 334.6,308.1 335.1,308.0 335.5,308.0 336.0,307.6 336.5,307.3 336.9,306.7 337.4,306.6 337.8,305.9 338.3,305.8 338.8,305.2 339.2,304.8 339.7,304.7 340.2,304.3 340.6,304.0 341.1,303.8 341.6,303.2 342.0,302.7 342.5,302.2 343.0,301.8 343.4,301.6 343.9,301.5 344.4,301.3 344.8,301.1 345.3,301.3 345.8,301.5 346.2,302.1 346.7,302.3 347.1,302.7 347.6,302.6 348.1,302.8 348.5,302.9 349.0,303.3 349.5,303.6 349.9,304.0 350.4,304.3 350.9,304.5 351.3,304.4 351.8,304.6 352.3,304.7 352.7,304.9 353.2,304.4 353.7,304.0 354.1,303.5 354.6,302.7 355.1,301.8 355.5,301.1 356.0,300.1 356.4,298.8 356.9,297.3 357.4,295.9 357.8,294.3 358.3,293.0 358.8,291.8 359.2,290.7 359.7,289.6 360.2,288.3 360.6,287.2 361.1,286.4 361.6,285.5 362.0,284.7 362.5,284.2 363.0,284.2 363.4,284.1 363.9,284.1 364.4,284.6 364.8,285.4 365.3,286.0 365.7,286.8 366.2,287.8 366.7,288.7 367.1,289.8 367.6,290.6 368.1,291.8 368.5,293.5 369.0,294.8 369.5,296.3 369.9,297.6 370.4,298.5 370.9,299.2 371.3,299.9 371.8,300.1 372.3,300.2 372.7,300.3 373.2,299.6 373.7,298.9 374.1,297.7 374.6,296.3 375.0,294.5 375.5,292.6 376.0,290.4 376.4,288.0 376.9,285.4 377.4,283.2 377.8,280.9 378.3,278.0 378.8,275.8 379.2,273.1 379.7,270.6 380.2,268.4 380.6,267.2 381.1,265.9 381.6,265.4 382.0,264.8 382.5,264.6 382.9,264.6 383.4,264.8 383.9,265.1 384.3,265.7 384.8,266.3 385.3,267.1 385.7,268.0 386.2,269.0 386.7,270.6 387.1,272.3 387.6,274.1 388.1,275.8 388.5,278.0 389.0,280.2 389.5,282.6 389.9,285.4 390.4,288.5 390.9,291.9 391.3,295.6 391.8,297.8 392.2,290.6 392.7,284.1 393.2,277.8 393.6,271.7 394.1,266.2 394.6,261.0 395.0,256.2 395.5,251.6 396.0,247.4 396.4,243.0 396.9,239.4 397.4,235.9 397.8,232.8 398.3,229.5 398.8,226.9 399.2,224.3 399.7,221.8 400.2,219.3 400.6,217.5 401.1,215.8 401.6,214.5 402.0,213.4 402.5,212.9 402.9,212.2 403.4,211.7 403.9,211.1 404.3,210.6 404.8,209.9 405.3,210.0 405.7,209.6 406.2,209.5 406.7,210.3 407.1,211.4 407.6,212.6 408.1,214.8 408.5,217.8 409.0,221.0 409.5,224.9 409.9,230.2 410.4,236.2 410.9,243.3 411.3,251.1 411.8,260.2 412.2,270.2 412.7,281.4 413.2,283.6 413.6,271.6 414.1,260.3 414.6,250.0 415.0,240.0 415.5,231.7 416.0,223.7 416.4,216.6 416.9,209.7 417.4,203.9 417.8,198.0 418.3,192.9 418.8,188.5 419.2,184.9 419.7,182.0 420.2,180.3 420.6,178.8 421.1,177.9 421.5,177.0 422.0,176.6 422.5,176.2 422.9,176.3 423.4,176.2 423.9,176.6 424.3,177.1 424.8,178.2 425.3,179.4 425.7,181.2 426.2,183.3 426.7,185.6 427.1,188.0 427.6,191.1 428.1,195.0 428.5,199.3 429.0,203.9 429.5,209.5 429.9,215.4 430.4,221.8 430.8,228.7 431.3,236.4 431.8,244.7 432.2,253.6 432.7,263.1 433.2,265.2 433.6,254.2 434.1,243.6 434.6,233.7 435.0,224.5 435.5,216.2 436.0,208.3 436.4,201.5 436.9,195.3 437.4,189.4 437.8,184.4 438.3,179.9 438.8,175.8 439.2,172.4 439.7,170.1 440.1,167.5 440.6,166.1 441.1,164.6 441.5,163.7 442.0,162.9 442.5,162.3 442.9,162.0 443.4,162.1 443.9,162.6 444.3,163.1 444.8,164.4 445.3,165.9 445.7,167.5 446.2,169.7 446.7,172.6 447.1,176.1 447.6,180.1 448.1,185.2 448.5,191.2 449.0,197.7 449.4,204.6 449.9,212.3 450.4,220.8 450.8,229.6 451.3,239.4 451.8,249.9 452.2,250.3 452.7,239.9 453.2,230.7 453.6,222.1 454.1,214.4 454.6,206.9 455.0,200.4 455.5,193.9 456.0,188.2 456.4,183.4 456.9,179.4 457.4,175.7 457.8,172.7 458.3,170.6 458.7,168.8 459.2,167.3 459.7,165.6 460.1,165.2 460.6,164.6 461.1,164.5 461.5,164.4 462.0,165.1 462.5,165.4 462.9,166.4 463.4,167.6 463.9,169.7 464.3,172.1 464.8,175.3 465.3,179.3 465.7,184.2 466.2,189.4 466.7,195.8 467.1,202.9 467.6,210.8 468.0,219.5 468.5,229.1 469.0,239.1 469.4,250.1 469.9,261.7 470.4,256.8 470.8,247.8 471.3,239.6 471.8,232.5 472.2,226.2 472.7,220.7 473.2,215.7 473.6,211.3 474.1,207.7 474.6,204.7 475.0,201.9 475.5,199.4 476.0,198.1 476.4,197.4 476.9,196.9 477.3,196.6 477.8,196.8 478.3,197.2 478.7,197.5 479.2,198.4 479.7,199.6 480.1,201.3 480.6,203.0 481.1,205.7 481.5,208.2 482.0,211.8 482.5,216.3 482.9,221.1 483.4,226.6 483.9,232.9 484.3,239.7 484.8,246.9 485.2,254.3 485.7,260.9 486.2,267.8 486.6,274.5 487.1,281.7 487.6,288.6 488.0,295.0 488.5,299.1 489.0,300.1 489.4,301.0 489.9,302.3 490.4,303.1 490.8,303.4 491.3,303.9 491.8,304.4 492.2,304.8 492.7,305.6 493.2,305.9 493.6,306.2 494.1,306.3 494.6,306.7 495.0,306.5 495.5,306.7 495.9,306.7 496.4,306.6 496.9,306.7 497.3,306.7 497.8,307.1 498.3,307.7 498.7,308.1 499.2,308.2 499.7,308.6 500.1,308.8 500.6,308.5 501.1,308.5 501.5,308.4 502.0,308.4 502.5,308.2 502.9,308.2 503.4,308.6 503.9,308.6 504.3,308.7 504.8,309.0 505.2,308.9 505.7,308.6 506.2,308.4 506.6,308.2 507.1,307.8 507.6,307.9 508.0,308.1 508.5,308.5 509.0,308.6 509.4,308.9 509.9,308.9 510.4,308.7 510.8,308.5 511.3,309.0 511.8,309.1 512.2,309.3 512.7,309.3 513.2,309.5 513.6,309.3 514.1,309.2 514.5,309.2 515.0,309.4 515.5,309.2 515.9,309.4 516.4,309.2 516.9,309.5 517.3,309.6 517.8,309.9 518.3,309.8 518.7,309.8 519.2,310.0 519.7,310.0 520.1,309.9 520.6,310.2 521.1,310.3 521.5,309.9 522.0,309.9 522.5,310.0 522.9,309.6 523.4,309.8 523.8,309.6 524.3,309.6 524.8,309.4 525.2,309.4 525.7,309.1 526.2,309.5 526.6,309.3 527.1,309.5 527.6,309.6 528.0,309.8 528.5,309.6 529.0,310.1 529.4,310.1 529.9,310.4 530.4,310.5 530.8,310.5 531.3,310.3 531.8,310.4 532.2,310.1 532.7,309.9 533.1,310.0 533.6,310.1 534.1,309.7 534.5,309.5 535.0,309.5 535.5,309.3 535.9,309.5 536.4,309.4 536.9,309.7 537.3,309.9 537.8,310.3 538.3,310.0 538.7,310.4 539.2,310.3 539.7,310.2 540.1,310.4 540.6,310.2 541.0,310.1 541.5,310.3 542.0,310.4 542.4,310.2 542.9,310.6 543.4,310.5 543.8,310.5 544.3,310.4 544.8,310.7 545.2,310.7 545.7,311.1 546.2,311.0 546.6,311.1 547.1,310.8 547.6,310.5 548.0,310.1 548.5,310.2 549.0,310.2 549.4,310.5 549.9,310.8 550.4,310.8 550.8,311.0 551.3,311.1 551.7,310.9 552.2,310.8 552.7,310.7 553.1,311.0 553.6,311.1 554.1,311.2 554.5,311.3 555.0,311.4 555.5,310.8 555.9,310.8 556.4,311.2 556.9,311.2 557.3,310.8 557.8,310.9 558.3,311.1 558.7,310.5 559.2,310.5 559.7,311.1 560.1,311.0 560.6,310.8 561.0,311.1 561.5,311.6 562.0,311.6 562.4,311.8 562.9,311.6 563.4,311.6 563.8,311.3 564.3,311.2 564.8,311.3 565.2,311.5 565.7,311.7 566.2,311.4 566.6,311.2 567.1,311.1 567.6,311.3 568.0,311.4 568.5,311.7 569.0,312.1 569.4,312.2 569.9,312.5 570.3,312.0 570.8,312.1 571.3,312.1 571.7,312.0 572.2,311.7 572.7,312.2 573.1,312.2 573.6,312.0 574.1,312.1 574.5,312.2 575.0,312.0 575.5,312.1 575.9,312.0 576.4,312.5 576.9,312.3 577.3,312.3 577.8,312.1 578.2,312.3 578.7,311.6 579.2,311.8 579.6,311.8 580.1,311.9 580.6,312.0 581.0,312.2 581.5,312.2 582.0,312.1 582.4,312.2 582.9,311.8 583.4,311.7 583.8,311.6 584.3,311.6 584.8,311.5 585.2,311.7 585.7,311.9 586.2,312.2 586.6,312.5 587.1,312.5 587.5,313.1 588.0,312.6 588.5,312.6 588.9,312.3 589.4,312.4 589.9,311.7 590.3,312.3 590.8,311.9 591.3,312.1 591.7,312.0 592.2,312.3 592.7,312.1 593.1,312.4 593.6,312.4 594.1,312.4 594.5,312.3 595.0,312.2 595.5,311.9 595.9,312.1 596.4,312.3 596.9,312.5 597.3,312.4 597.8,312.5 598.2,312.6 598.7,312.5 599.2,312.3 599.6,312.5 600.1,312.4 600.6,312.7 601.0,312.8 601.5,312.6 602.0,312.9 602.4,313.2 602.9,312.7 603.4,312.3 603.8,312.3 604.3,311.8 604.8,311.8 605.2,311.8 605.7,312.2 606.1,312.2 606.6,312.3 607.1,312.2 607.5,312.6 608.0,312.6 608.5,312.8 608.9,313.0 609.4,313.3 609.9,313.4 610.3,313.3 610.8,313.0 611.3,312.8 611.7,312.5 612.2,312.3 612.7,312.6 613.1,313.0 613.6,312.9 614.1,312.8 614.5,312.9 615.0,312.7 615.5,312.4 615.9,312.6 616.4,312.6 616.8,312.5 617.3,312.5 617.8,312.7 618.2,313.1 618.7,313.2 619.2,313.2 619.6,313.4 620.1,313.1 620.6,312.3 621.0,312.0 621.5,312.0 622.0,311.8 622.4,312.0 622.9,312.4 623.4,313.0 623.8,312.6 624.3,312.4 624.8,312.4 625.2,312.1 625.7,311.9 626.1,311.9 626.6,312.0 627.1,312.3 627.5,312.7 628.0,312.8 628.5,312.8 628.9,313.2 629.4,312.9 629.9,313.1 630.3,312.8 630.8,313.0 631.3,312.8 631.7,312.8 632.2,312.9 632.7,313.2 633.1,313.1 633.6,313.1 634.1,313.2 634.5,313.2 635.0,313.1 635.4,313.1 635.9,313.2 636.4,313.4 636.8,313.6 637.3,313.7 637.8,313.7 638.2,313.7 638.7,313.2 639.2,313.1 639.6,313.0 640.1,313.4 640.6,313.2 641.0,313.7 641.5,313.5 642.0,313.4 642.4,312.6 642.9,312.6 643.4,312.3 643.8,312.4 644.3,312.1 644.7,312.6 645.2,313.0 645.7,313.0 646.1,313.1 646.6,313.5 647.1,313.4 647.5,313.2 648.0,313.6"/>
</g>

</svg>
<div class="title">D4425 V20209 Ch. 4</div>
<div class="xl">Wavelength [nm]</div>
<div class="yl"><span>Optical Power [dB]</span></div>
<div class="xt" style="left:60.0px">840</div><div class="xt" style="left:134.4px">842</div><div class="xt" style="left:208.8px">844</div><div class="xt" style="left:283.2px">846</div><div class="xt" style="left:357.6px">848</div><div class="xt" style="left:432.0px">850</div><div class="xt" style="left:506.4px">852</div><div class="xt" style="left:580.8px">854</div><div class="yt" style="top:43.5px">20</div><div class="yt" style="top:102.8px">0</div><div class="yt" style="top:162.1px">−20</div><div class="yt" style="top:221.4px">−40</div><div class="yt" style="top:280.7px">−60</div><div class="yt" style="top:340.0px">−80</div>
<div class="legend"></div>
<div class="li" style="top:60.75px"><span class="ln" style="background:#bcbd22"></span><span class="lt">OptoBoard QA</span></div><div class="li" style="top:81.75px"><span class="ln" style="background:#ff7f0e"></span><span class="lt">Post Burn-In</span></div><div class="li" style="top:102.75px"><span class="ln" style="background:#d62728"></span><span class="lt">Pre Burn-In</span></div><div class="li" style="top:123.75px"><span class="ln" style="background:#9467bd"></span><span class="lt">Reception Test</span></div>
</body></html>
